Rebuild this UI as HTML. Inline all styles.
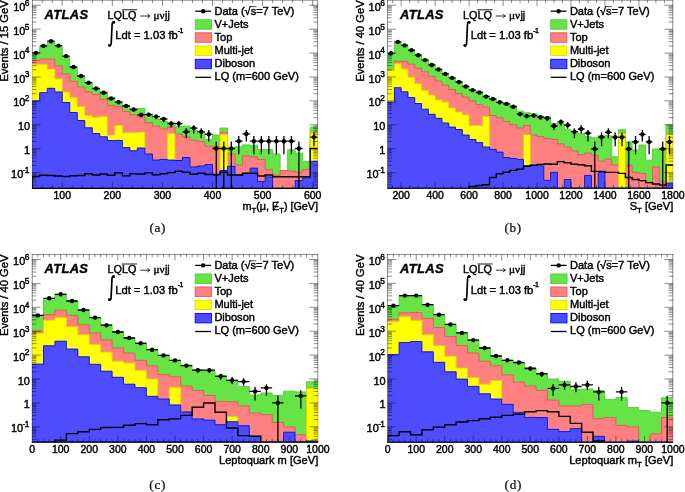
<!DOCTYPE html>
<html><head><meta charset="utf-8"><title>ATLAS LQ plots</title><style>html,body{margin:0;padding:0;background:#fff;width:685px;height:492px;overflow:hidden}svg{display:block}svg text{stroke:#000;stroke-width:0.42px}</style></head><body>
<svg width="685" height="492" viewBox="0 0 685 492" font-family="'Liberation Sans', Arial, Helvetica, sans-serif" fill="#000">
<rect width="100%" height="100%" fill="#fff"/>
<defs><clipPath id="clipa"><rect x="32.2" y="0.1" width="285.5" height="188.3"/></clipPath></defs>
<rect x="32.2" y="0.1" width="285.5" height="188.3" fill="none" stroke="#000" stroke-width="0.45"/>
<g clip-path="url(#clipa)">
<path d="M32.2 188.4 L32.2 54.2 L39.71 54.2 L39.71 46.7 L47.23 46.7 L47.23 42.3 L54.74 42.3 L54.74 46.4 L62.25 46.4 L62.25 57 L69.77 57 L69.77 67.5 L77.28 67.5 L77.28 76.5 L84.79 76.5 L84.79 83.3 L92.31 83.3 L92.31 88.7 L99.82 88.7 L99.82 92 L107.33 92 L107.33 97.6 L114.84 97.6 L114.84 101.7 L122.36 101.7 L122.36 105.8 L129.87 105.8 L129.87 109 L137.38 109 L137.38 108.5 L144.9 108.5 L144.9 114.1 L152.41 114.1 L152.41 119 L159.92 119 L159.92 121.5 L167.44 121.5 L167.44 122.3 L174.95 122.3 L174.95 126.3 L182.46 126.3 L182.46 126.1 L189.98 126.1 L189.98 130.6 L197.49 130.6 L197.49 133.8 L205 133.8 L205 139.5 L212.52 139.5 L212.52 135 L220.03 135 L220.03 128 L227.54 128 L227.54 148 L235.06 148 L235.06 146.7 L242.57 146.7 L242.57 144.9 L250.08 144.9 L250.08 145.4 L257.59 145.4 L257.59 149.5 L265.11 149.5 L265.11 149.5 L272.62 149.5 L272.62 154 L280.13 154 L280.13 170.5 L287.65 170.5 L287.65 149.8 L295.16 149.8 L295.16 153.1 L302.67 153.1 L302.67 161.4 L310.19 161.4 L310.19 127.1 L317.7 127.1 L317.7 188.4 Z" fill="#67e445" stroke="#4ccc34" stroke-width="0.9"/>
<path d="M32.2 188.4 L32.2 60.7 L39.71 60.7 L39.71 59.1 L47.23 59.1 L47.23 59.1 L54.74 59.1 L54.74 65.9 L62.25 65.9 L62.25 74 L69.77 74 L69.77 81.3 L77.28 81.3 L77.28 87 L84.79 87 L84.79 92 L92.31 92 L92.31 94.4 L99.82 94.4 L99.82 99.3 L107.33 99.3 L107.33 105.3 L114.84 105.3 L114.84 106.6 L122.36 106.6 L122.36 111.5 L129.87 111.5 L129.87 114.7 L137.38 114.7 L137.38 117 L144.9 117 L144.9 122.6 L152.41 122.6 L152.41 126 L159.92 126 L159.92 129 L167.44 129 L167.44 127 L174.95 127 L174.95 134 L182.46 134 L182.46 137 L189.98 137 L189.98 140.3 L197.49 140.3 L197.49 141.5 L205 141.5 L205 146 L212.52 146 L212.52 146.8 L220.03 146.8 L220.03 132.4 L227.54 132.4 L227.54 154 L235.06 154 L235.06 165 L242.57 165 L242.57 155.9 L250.08 155.9 L250.08 156.8 L257.59 156.8 L257.59 159.5 L265.11 159.5 L265.11 169.6 L272.62 169.6 L272.62 175.1 L280.13 175.1 L280.13 170.5 L287.65 170.5 L287.65 171 L295.16 171 L295.16 172.3 L302.67 172.3 L302.67 169.6 L310.19 169.6 L310.19 133 L317.7 133 L317.7 188.4 Z" fill="#ff8080" stroke="#e8505a" stroke-width="0.9"/>
<path d="M32.2 188.4 L32.2 64.3 L39.71 64.3 L39.71 64.3 L47.23 64.3 L47.23 69.1 L54.74 69.1 L54.74 78.9 L62.25 78.9 L62.25 91.9 L69.77 91.9 L69.77 97.6 L77.28 97.6 L77.28 106.5 L84.79 106.5 L84.79 115.6 L92.31 115.6 L92.31 117.3 L99.82 117.3 L99.82 116.4 L107.33 116.4 L107.33 135.1 L114.84 135.1 L114.84 125.4 L122.36 125.4 L122.36 132.8 L129.87 132.8 L129.87 132.7 L137.38 132.7 L137.38 132.2 L144.9 132.2 L144.9 154 L152.41 154 L152.41 160 L159.92 160 L159.92 159.4 L167.44 159.4 L167.44 133.6 L174.95 133.6 L174.95 160.5 L182.46 160.5 L182.46 157.5 L189.98 157.5 L189.98 166.9 L197.49 166.9 L197.49 165.9 L205 165.9 L205 164.5 L212.52 164.5 L212.52 175.1 L220.03 175.1 L220.03 134.4 L227.54 134.4 L227.54 166.3 L235.06 166.3 L235.06 175.1 L242.57 175.1 L242.57 173.3 L250.08 173.3 L250.08 168.1 L257.59 168.1 L257.59 181.5 L265.11 181.5 L265.11 176.9 L272.62 176.9 L272.62 188.4 L280.13 188.4 L280.13 188.4 L287.65 188.4 L287.65 188.4 L295.16 188.4 L295.16 180.6 L302.67 180.6 L302.67 177.8 L310.19 177.8 L310.19 133 L317.7 133 L317.7 188.4 Z" fill="#ffff00" stroke="#e0d800" stroke-width="0.9"/>
<path d="M32.2 188.4 L32.2 100.9 L39.71 100.9 L39.71 92.7 L47.23 92.7 L47.23 88.3 L54.74 88.3 L54.74 91.9 L62.25 91.9 L62.25 102.5 L69.77 102.5 L69.77 112.5 L77.28 112.5 L77.28 120.5 L84.79 120.5 L84.79 127.8 L92.31 127.8 L92.31 133.5 L99.82 133.5 L99.82 136.8 L107.33 136.8 L107.33 140.6 L114.84 140.6 L114.84 140.4 L122.36 140.4 L122.36 147.6 L129.87 147.6 L129.87 150.7 L137.38 150.7 L137.38 148 L144.9 148 L144.9 154 L152.41 154 L152.41 160 L159.92 160 L159.92 159.4 L167.44 159.4 L167.44 160.1 L174.95 160.1 L174.95 160.5 L182.46 160.5 L182.46 157.5 L189.98 157.5 L189.98 166.9 L197.49 166.9 L197.49 165.9 L205 165.9 L205 164.5 L212.52 164.5 L212.52 175.1 L220.03 175.1 L220.03 170.5 L227.54 170.5 L227.54 166.3 L235.06 166.3 L235.06 175.1 L242.57 175.1 L242.57 173.3 L250.08 173.3 L250.08 168.1 L257.59 168.1 L257.59 181.5 L265.11 181.5 L265.11 176.9 L272.62 176.9 L272.62 188.4 L280.13 188.4 L280.13 188.4 L287.65 188.4 L287.65 188.4 L295.16 188.4 L295.16 180.6 L302.67 180.6 L302.67 177.8 L310.19 177.8 L310.19 161.4 L317.7 161.4 L317.7 188.4 Z" fill="#4d4dff" stroke="#0000ff" stroke-width="0.9"/>
<path d="M32.2 190.4 L32.2 176.5 L39.71 176.5 L39.71 175.2 L47.23 175.2 L47.23 175.5 L54.74 175.5 L54.74 176 L62.25 176 L62.25 176.5 L69.77 176.5 L69.77 175.7 L77.28 175.7 L77.28 175.5 L84.79 175.5 L84.79 173.8 L92.31 173.8 L92.31 175 L99.82 175 L99.82 174 L107.33 174 L107.33 175.3 L114.84 175.3 L114.84 172.7 L122.36 172.7 L122.36 175.9 L129.87 175.9 L129.87 173.9 L137.38 173.9 L137.38 174 L144.9 174 L144.9 172.9 L152.41 172.9 L152.41 174.8 L159.92 174.8 L159.92 173.8 L167.44 173.8 L167.44 172.6 L174.95 172.6 L174.95 171.2 L182.46 171.2 L182.46 172.3 L189.98 172.3 L189.98 174.3 L197.49 174.3 L197.49 173.3 L205 173.3 L205 174.5 L212.52 174.5 L212.52 174.5 L220.03 174.5 L220.03 172.3 L227.54 172.3 L227.54 175 L235.06 175 L235.06 175 L242.57 175 L242.57 173.2 L250.08 173.2 L250.08 173.2 L257.59 173.2 L257.59 176 L265.11 176 L265.11 175 L272.62 175 L272.62 176.8 L280.13 176.8 L280.13 176.8 L287.65 176.8 L287.65 176.8 L295.16 176.8 L295.16 176.8 L302.67 176.8 L302.67 176.8 L310.19 176.8 L310.19 148.5 L317.7 148.5" fill="none" stroke="#000" stroke-width="1.4"/>
<line x1="32.2" y1="52.9" x2="39.71" y2="52.9" stroke="#000" stroke-width="1.3"/>
<circle cx="35.96" cy="52.9" r="2.2" fill="#000"/>
<line x1="39.71" y1="45.9" x2="47.23" y2="45.9" stroke="#000" stroke-width="1.3"/>
<circle cx="43.47" cy="45.9" r="2.2" fill="#000"/>
<line x1="47.23" y1="41.2" x2="54.74" y2="41.2" stroke="#000" stroke-width="1.3"/>
<circle cx="50.98" cy="41.2" r="2.2" fill="#000"/>
<line x1="54.74" y1="45.6" x2="62.25" y2="45.6" stroke="#000" stroke-width="1.3"/>
<circle cx="58.5" cy="45.6" r="2.2" fill="#000"/>
<line x1="62.25" y1="56.1" x2="69.77" y2="56.1" stroke="#000" stroke-width="1.3"/>
<circle cx="66.01" cy="56.1" r="2.2" fill="#000"/>
<line x1="69.77" y1="67" x2="77.28" y2="67" stroke="#000" stroke-width="1.3"/>
<circle cx="73.52" cy="67" r="2.2" fill="#000"/>
<line x1="77.28" y1="76" x2="84.79" y2="76" stroke="#000" stroke-width="1.3"/>
<circle cx="81.04" cy="76" r="2.2" fill="#000"/>
<line x1="84.79" y1="82.7" x2="92.31" y2="82.7" stroke="#000" stroke-width="1.3"/>
<circle cx="88.55" cy="82.7" r="2.2" fill="#000"/>
<line x1="92.31" y1="88.5" x2="99.82" y2="88.5" stroke="#000" stroke-width="1.3"/>
<circle cx="96.06" cy="88.5" r="2.2" fill="#000"/>
<line x1="99.82" y1="92.8" x2="107.33" y2="92.8" stroke="#000" stroke-width="1.3"/>
<circle cx="103.58" cy="92.8" r="2.2" fill="#000"/>
<line x1="107.33" y1="98.5" x2="114.84" y2="98.5" stroke="#000" stroke-width="1.3"/>
<circle cx="111.09" cy="98.5" r="2.2" fill="#000"/>
<line x1="114.84" y1="102.2" x2="122.36" y2="102.2" stroke="#000" stroke-width="1.3"/>
<circle cx="118.6" cy="102.2" r="2.2" fill="#000"/>
<line x1="122.36" y1="106" x2="129.87" y2="106" stroke="#000" stroke-width="1.3"/>
<circle cx="126.11" cy="106" r="2.2" fill="#000"/>
<line x1="129.87" y1="109.5" x2="137.38" y2="109.5" stroke="#000" stroke-width="1.3"/>
<circle cx="133.63" cy="109.5" r="2.2" fill="#000"/>
<line x1="141.14" y1="113.02" x2="141.14" y2="117.15" stroke="#000" stroke-width="1.3"/>
<line x1="137.38" y1="114.8" x2="144.9" y2="114.8" stroke="#000" stroke-width="1.3"/>
<circle cx="141.14" cy="114.8" r="2.2" fill="#000"/>
<line x1="148.65" y1="112.66" x2="148.65" y2="116.71" stroke="#000" stroke-width="1.3"/>
<line x1="144.9" y1="114.6" x2="152.41" y2="114.6" stroke="#000" stroke-width="1.3"/>
<circle cx="148.65" cy="114.6" r="2.2" fill="#000"/>
<line x1="156.17" y1="114.61" x2="156.17" y2="119.1" stroke="#000" stroke-width="1.3"/>
<line x1="152.41" y1="116.6" x2="159.92" y2="116.6" stroke="#000" stroke-width="1.3"/>
<circle cx="156.17" cy="116.6" r="2.2" fill="#000"/>
<line x1="163.68" y1="117.04" x2="163.68" y2="122.18" stroke="#000" stroke-width="1.3"/>
<line x1="159.92" y1="119" x2="167.44" y2="119" stroke="#000" stroke-width="1.3"/>
<circle cx="163.68" cy="119" r="2.2" fill="#000"/>
<line x1="171.19" y1="121.08" x2="171.19" y2="127.54" stroke="#000" stroke-width="1.3"/>
<line x1="167.44" y1="123.6" x2="174.95" y2="123.6" stroke="#000" stroke-width="1.3"/>
<circle cx="171.19" cy="123.6" r="2.2" fill="#000"/>
<line x1="178.71" y1="121.08" x2="178.71" y2="127.54" stroke="#000" stroke-width="1.3"/>
<line x1="174.95" y1="123.6" x2="182.46" y2="123.6" stroke="#000" stroke-width="1.3"/>
<circle cx="178.71" cy="123.6" r="2.2" fill="#000"/>
<line x1="186.22" y1="128.16" x2="186.22" y2="138.15" stroke="#000" stroke-width="1.3"/>
<line x1="182.46" y1="131.8" x2="189.98" y2="131.8" stroke="#000" stroke-width="1.3"/>
<circle cx="186.22" cy="131.8" r="2.2" fill="#000"/>
<line x1="193.73" y1="125.17" x2="193.73" y2="133.43" stroke="#000" stroke-width="1.3"/>
<line x1="189.98" y1="128.1" x2="197.49" y2="128.1" stroke="#000" stroke-width="1.3"/>
<circle cx="193.73" cy="128.1" r="2.2" fill="#000"/>
<line x1="201.25" y1="128.16" x2="201.25" y2="138.15" stroke="#000" stroke-width="1.3"/>
<line x1="197.49" y1="131.8" x2="205" y2="131.8" stroke="#000" stroke-width="1.3"/>
<circle cx="201.25" cy="131.8" r="2.2" fill="#000"/>
<line x1="208.76" y1="130.1" x2="208.76" y2="141.51" stroke="#000" stroke-width="1.3"/>
<line x1="205" y1="134.2" x2="212.52" y2="134.2" stroke="#000" stroke-width="1.3"/>
<circle cx="208.76" cy="134.2" r="2.2" fill="#000"/>
<line x1="216.27" y1="141.51" x2="216.27" y2="188.4" stroke="#000" stroke-width="1.3"/>
<line x1="212.52" y1="148.5" x2="220.03" y2="148.5" stroke="#000" stroke-width="1.3"/>
<circle cx="216.27" cy="148.5" r="2.2" fill="#000"/>
<line x1="223.79" y1="141.51" x2="223.79" y2="188.4" stroke="#000" stroke-width="1.3"/>
<line x1="220.03" y1="148.5" x2="227.54" y2="148.5" stroke="#000" stroke-width="1.3"/>
<circle cx="223.79" cy="148.5" r="2.2" fill="#000"/>
<line x1="231.3" y1="141.51" x2="231.3" y2="188.4" stroke="#000" stroke-width="1.3"/>
<line x1="227.54" y1="148.5" x2="235.06" y2="148.5" stroke="#000" stroke-width="1.3"/>
<circle cx="231.3" cy="148.5" r="2.2" fill="#000"/>
<line x1="238.81" y1="135.95" x2="238.81" y2="154.25" stroke="#000" stroke-width="1.3"/>
<line x1="235.06" y1="141.2" x2="242.57" y2="141.2" stroke="#000" stroke-width="1.3"/>
<circle cx="238.81" cy="141.2" r="2.2" fill="#000"/>
<line x1="246.32" y1="130.1" x2="246.32" y2="141.51" stroke="#000" stroke-width="1.3"/>
<line x1="242.57" y1="133.9" x2="250.08" y2="133.9" stroke="#000" stroke-width="1.3"/>
<circle cx="246.32" cy="133.9" r="2.2" fill="#000"/>
<line x1="253.84" y1="135.95" x2="253.84" y2="154.25" stroke="#000" stroke-width="1.3"/>
<line x1="250.08" y1="141.2" x2="257.59" y2="141.2" stroke="#000" stroke-width="1.3"/>
<circle cx="253.84" cy="141.2" r="2.2" fill="#000"/>
<line x1="261.35" y1="135.95" x2="261.35" y2="154.25" stroke="#000" stroke-width="1.3"/>
<line x1="257.59" y1="141.2" x2="265.11" y2="141.2" stroke="#000" stroke-width="1.3"/>
<circle cx="261.35" cy="141.2" r="2.2" fill="#000"/>
<line x1="268.86" y1="135.95" x2="268.86" y2="154.25" stroke="#000" stroke-width="1.3"/>
<line x1="265.11" y1="141.2" x2="272.62" y2="141.2" stroke="#000" stroke-width="1.3"/>
<circle cx="268.86" cy="141.2" r="2.2" fill="#000"/>
<line x1="276.38" y1="135.95" x2="276.38" y2="154.25" stroke="#000" stroke-width="1.3"/>
<line x1="272.62" y1="141.2" x2="280.13" y2="141.2" stroke="#000" stroke-width="1.3"/>
<circle cx="276.38" cy="141.2" r="2.2" fill="#000"/>
<line x1="283.89" y1="135.95" x2="283.89" y2="154.25" stroke="#000" stroke-width="1.3"/>
<line x1="280.13" y1="141.2" x2="287.65" y2="141.2" stroke="#000" stroke-width="1.3"/>
<circle cx="283.89" cy="141.2" r="2.2" fill="#000"/>
<line x1="291.4" y1="135.95" x2="291.4" y2="154.25" stroke="#000" stroke-width="1.3"/>
<line x1="287.65" y1="141.2" x2="295.16" y2="141.2" stroke="#000" stroke-width="1.3"/>
<circle cx="291.4" cy="141.2" r="2.2" fill="#000"/>
<line x1="298.92" y1="141.51" x2="298.92" y2="188.4" stroke="#000" stroke-width="1.3"/>
<line x1="295.16" y1="148.5" x2="302.67" y2="148.5" stroke="#000" stroke-width="1.3"/>
<circle cx="298.92" cy="148.5" r="2.2" fill="#000"/>
<line x1="313.94" y1="132.57" x2="313.94" y2="146.24" stroke="#000" stroke-width="1.3"/>
<line x1="310.19" y1="137.1" x2="317.7" y2="137.1" stroke="#000" stroke-width="1.3"/>
<circle cx="313.94" cy="137.1" r="2.2" fill="#000"/>
</g>
<path d="M31.9 188.4H318" stroke="#000" stroke-width="1.1"/>
<path d="M32.2 185.1h4.3 M317.7 185.1h-4.3 M32.2 182.11h4.3 M317.7 182.11h-4.3 M32.2 179.79h4.3 M317.7 179.79h-4.3 M32.2 177.9h4.3 M317.7 177.9h-4.3 M32.2 176.3h4.3 M317.7 176.3h-4.3 M32.2 174.92h4.3 M317.7 174.92h-4.3 M32.2 173.69h4.3 M317.7 173.69h-4.3 M32.2 172.6h8.5 M317.7 172.6h-8.5 M32.2 165.41h4.3 M317.7 165.41h-4.3 M32.2 161.2h4.3 M317.7 161.2h-4.3 M32.2 158.21h4.3 M317.7 158.21h-4.3 M32.2 155.89h4.3 M317.7 155.89h-4.3 M32.2 154h4.3 M317.7 154h-4.3 M32.2 152.4h4.3 M317.7 152.4h-4.3 M32.2 151.02h4.3 M317.7 151.02h-4.3 M32.2 149.79h4.3 M317.7 149.79h-4.3 M32.2 148.7h8.5 M317.7 148.7h-8.5 M32.2 141.51h4.3 M317.7 141.51h-4.3 M32.2 137.3h4.3 M317.7 137.3h-4.3 M32.2 134.31h4.3 M317.7 134.31h-4.3 M32.2 131.99h4.3 M317.7 131.99h-4.3 M32.2 130.1h4.3 M317.7 130.1h-4.3 M32.2 128.5h4.3 M317.7 128.5h-4.3 M32.2 127.12h4.3 M317.7 127.12h-4.3 M32.2 125.89h4.3 M317.7 125.89h-4.3 M32.2 124.8h8.5 M317.7 124.8h-8.5 M32.2 117.61h4.3 M317.7 117.61h-4.3 M32.2 113.4h4.3 M317.7 113.4h-4.3 M32.2 110.41h4.3 M317.7 110.41h-4.3 M32.2 108.09h4.3 M317.7 108.09h-4.3 M32.2 106.2h4.3 M317.7 106.2h-4.3 M32.2 104.6h4.3 M317.7 104.6h-4.3 M32.2 103.22h4.3 M317.7 103.22h-4.3 M32.2 101.99h4.3 M317.7 101.99h-4.3 M32.2 100.9h8.5 M317.7 100.9h-8.5 M32.2 93.71h4.3 M317.7 93.71h-4.3 M32.2 89.5h4.3 M317.7 89.5h-4.3 M32.2 86.51h4.3 M317.7 86.51h-4.3 M32.2 84.19h4.3 M317.7 84.19h-4.3 M32.2 82.3h4.3 M317.7 82.3h-4.3 M32.2 80.7h4.3 M317.7 80.7h-4.3 M32.2 79.32h4.3 M317.7 79.32h-4.3 M32.2 78.09h4.3 M317.7 78.09h-4.3 M32.2 77h8.5 M317.7 77h-8.5 M32.2 69.81h4.3 M317.7 69.81h-4.3 M32.2 65.6h4.3 M317.7 65.6h-4.3 M32.2 62.61h4.3 M317.7 62.61h-4.3 M32.2 60.29h4.3 M317.7 60.29h-4.3 M32.2 58.4h4.3 M317.7 58.4h-4.3 M32.2 56.8h4.3 M317.7 56.8h-4.3 M32.2 55.42h4.3 M317.7 55.42h-4.3 M32.2 54.19h4.3 M317.7 54.19h-4.3 M32.2 53.1h8.5 M317.7 53.1h-8.5 M32.2 45.91h4.3 M317.7 45.91h-4.3 M32.2 41.7h4.3 M317.7 41.7h-4.3 M32.2 38.71h4.3 M317.7 38.71h-4.3 M32.2 36.39h4.3 M317.7 36.39h-4.3 M32.2 34.5h4.3 M317.7 34.5h-4.3 M32.2 32.9h4.3 M317.7 32.9h-4.3 M32.2 31.52h4.3 M317.7 31.52h-4.3 M32.2 30.29h4.3 M317.7 30.29h-4.3 M32.2 29.2h8.5 M317.7 29.2h-8.5 M32.2 22.01h4.3 M317.7 22.01h-4.3 M32.2 17.8h4.3 M317.7 17.8h-4.3 M32.2 14.81h4.3 M317.7 14.81h-4.3 M32.2 12.49h4.3 M317.7 12.49h-4.3 M32.2 10.6h4.3 M317.7 10.6h-4.3 M32.2 9h4.3 M317.7 9h-4.3 M32.2 7.62h4.3 M317.7 7.62h-4.3 M32.2 6.39h4.3 M317.7 6.39h-4.3 M32.2 5.3h8.5 M317.7 5.3h-8.5 M42.22 188.4v-3 M42.22 0.1v3 M52.24 188.4v-3 M52.24 0.1v3 M62.25 188.4v-6 M62.25 0.1v6 M72.27 188.4v-3 M72.27 0.1v3 M82.29 188.4v-3 M82.29 0.1v3 M92.31 188.4v-3 M92.31 0.1v3 M102.32 188.4v-3 M102.32 0.1v3 M112.34 188.4v-6 M112.34 0.1v6 M122.36 188.4v-3 M122.36 0.1v3 M132.38 188.4v-3 M132.38 0.1v3 M142.39 188.4v-3 M142.39 0.1v3 M152.41 188.4v-3 M152.41 0.1v3 M162.43 188.4v-6 M162.43 0.1v6 M172.45 188.4v-3 M172.45 0.1v3 M182.46 188.4v-3 M182.46 0.1v3 M192.48 188.4v-3 M192.48 0.1v3 M202.5 188.4v-3 M202.5 0.1v3 M212.52 188.4v-6 M212.52 0.1v6 M222.53 188.4v-3 M222.53 0.1v3 M232.55 188.4v-3 M232.55 0.1v3 M242.57 188.4v-3 M242.57 0.1v3 M252.59 188.4v-3 M252.59 0.1v3 M262.6 188.4v-6 M262.6 0.1v6 M272.62 188.4v-3 M272.62 0.1v3 M282.64 188.4v-3 M282.64 0.1v3 M292.66 188.4v-3 M292.66 0.1v3 M302.67 188.4v-3 M302.67 0.1v3 M312.69 188.4v-6 M312.69 0.1v6" stroke="#000" stroke-width="0.45" fill="none"/>
<g font-size="10.9"><text x="29.4" y="178.1" text-anchor="end">10<tspan dx="-0.6" dy="-5.2" font-size="8.4"><tspan letter-spacing="-0.7">-</tspan>1</tspan></text><text x="30" y="154.2" text-anchor="end">1</text><text x="30" y="130.3" text-anchor="end">10</text><text x="29.4" y="106.4" text-anchor="end">10<tspan dx="-0.6" dy="-5.2" font-size="8.4">2</tspan></text><text x="29.4" y="82.5" text-anchor="end">10<tspan dx="-0.6" dy="-5.2" font-size="8.4">3</tspan></text><text x="29.4" y="58.6" text-anchor="end">10<tspan dx="-0.6" dy="-5.2" font-size="8.4">4</tspan></text><text x="29.4" y="34.7" text-anchor="end">10<tspan dx="-0.6" dy="-5.2" font-size="8.4">5</tspan></text><text x="29.4" y="10.8" text-anchor="end">10<tspan dx="-0.6" dy="-5.2" font-size="8.4">6</tspan></text></g>
<g font-size="10.5"><text x="62.25" y="199.2" text-anchor="middle">100</text><text x="112.34" y="199.2" text-anchor="middle">200</text><text x="162.43" y="199.2" text-anchor="middle">300</text><text x="212.52" y="199.2" text-anchor="middle">400</text><text x="262.6" y="199.2" text-anchor="middle">500</text><text x="312.69" y="199.2" text-anchor="middle">600</text></g>
<text transform="translate(8.2 0.3) rotate(-90)" text-anchor="end" font-size="11.2">Events / 15 GeV</text>
<g font-size="11.05"><line x1="195.3" y1="11.2" x2="211.1" y2="11.2" stroke="#000" stroke-width="1.3"/>
<circle cx="203.2" cy="11.2" r="2.2"/>
<rect x="195.3" y="19.8" width="16.2" height="9.4" fill="#67e445" stroke="#4ccc34" stroke-width="0.9"/>
<rect x="195.3" y="32.8" width="16.2" height="9.4" fill="#ff8080" stroke="#e8505a" stroke-width="0.9"/>
<rect x="195.3" y="46" width="16.2" height="9.4" fill="#ffff00" stroke="#e0d800" stroke-width="0.9"/>
<rect x="195.3" y="59.3" width="16.2" height="9.4" fill="#4d4dff" stroke="#0000ff" stroke-width="0.9"/>
<line x1="195.3" y1="77.3" x2="211.1" y2="77.3" stroke="#000" stroke-width="1.3"/>
<path d="M250.1 6.6H256.4" stroke="#000" stroke-width="0.7"/>
<text x="214.5" y="15.15">Data (&#8730;s=7 TeV)</text>
<text x="214.5" y="28.1">V+Jets</text>
<text x="214.5" y="41.05">Top</text>
<text x="214.5" y="54">Multi-jet</text>
<text x="214.5" y="66.95">Diboson</text>
<text x="214.5" y="79.9">LQ (m=600 GeV)</text>
<text x="44.6" y="19" font-weight="bold" font-style="italic" font-size="12.9" letter-spacing="0.35">ATLAS</text>
<text x="107.6" y="19" font-size="10.8">LQLQ</text>
<path d="M121.9 9.8h15.2" stroke="#000" stroke-width="0.9"/>
<path d="M140.3 16h9.6 M150 16l-2.6 -1.8 M150 16l-2.6 1.8" stroke="#000" stroke-width="0.8" fill="none"/>
<text x="153.6" y="19" font-size="11.2" font-family="'Liberation Serif', 'Times New Roman', serif">&#956;&#957;</text>
<text x="165" y="19" font-size="10.8">jj</text>
<path d="M114.3 22.4 C113.6 21.2 112.2 21.6 112.1 24.5 L111.2 43.3 C111.1 46.2 109.6 46.6 108.9 45.4" stroke="#000" stroke-width="1.7" fill="none" stroke-linecap="round"/>
<circle cx="113.9" cy="22.6" r="1.25"/><circle cx="109.3" cy="45.2" r="1.25"/>
<text x="115.3" y="39.3" font-size="11.2">Ldt = 1.03 fb<tspan dx="0" dy="-6.2" font-size="6.9" letter-spacing="-0.6">-1</tspan></text></g>
<text x="242.59" y="210.3" font-size="10.8">m</text>
<text x="251.58" y="213.4" font-size="7.6">T</text>
<text x="256.23" y="210.3" font-size="10.8">(&#956;,&#160;</text>
<text x="272.05" y="210.3" font-size="10.8">E</text>
<path d="M273.25 211.3L278.05 201.3" stroke="#000" stroke-width="0.9"/>
<text x="279.25" y="213.4" font-size="7.6">T</text>
<text x="283.89" y="210.3" font-size="10.8">)&#160;[GeV]</text>
<text x="157.8" y="232" text-anchor="middle" font-family="'Liberation Serif', 'Times New Roman', serif" font-size="13.2" letter-spacing="0.7" style="stroke-width:0.2px">(a)</text>
<defs><clipPath id="clipb"><rect x="387.6" y="0.1" width="285.3" height="188.1"/></clipPath></defs>
<rect x="387.6" y="0.1" width="285.3" height="188.1" fill="none" stroke="#000" stroke-width="0.45"/>
<g clip-path="url(#clipb)">
<path d="M387.6 188.2 L387.6 53.6 L394.39 53.6 L394.39 42.2 L401.19 42.2 L401.19 45 L407.98 45 L407.98 49.5 L414.77 49.5 L414.77 54.4 L421.56 54.4 L421.56 59.3 L428.36 59.3 L428.36 64.1 L435.15 64.1 L435.15 69 L441.94 69 L441.94 73.5 L448.74 73.5 L448.74 77.6 L455.53 77.6 L455.53 81.5 L462.32 81.5 L462.32 86 L469.11 86 L469.11 89.7 L475.91 89.7 L475.91 92 L482.7 92 L482.7 95.7 L489.49 95.7 L489.49 99.1 L496.29 99.1 L496.29 102 L503.08 102 L503.08 103.1 L509.87 103.1 L509.87 105.5 L516.66 105.5 L516.66 111.2 L523.46 111.2 L523.46 112.8 L530.25 112.8 L530.25 113.7 L537.04 113.7 L537.04 116.1 L543.84 116.1 L543.84 116.9 L550.63 116.9 L550.63 123.5 L557.42 123.5 L557.42 123.6 L564.21 123.6 L564.21 129.7 L571.01 129.7 L571.01 131.7 L577.8 131.7 L577.8 133.7 L584.59 133.7 L584.59 136.8 L591.39 136.8 L591.39 137.8 L598.18 137.8 L598.18 135.8 L604.97 135.8 L604.97 135.8 L611.76 135.8 L611.76 156.8 L618.56 156.8 L618.56 129.7 L625.35 129.7 L625.35 141.9 L632.14 141.9 L632.14 150 L638.94 150 L638.94 145 L645.73 145 L645.73 160.2 L652.52 160.2 L652.52 149 L659.31 149 L659.31 149 L666.11 149 L666.11 124.7 L672.9 124.7 L672.9 188.2 Z" fill="#67e445" stroke="#4ccc34" stroke-width="0.9"/>
<path d="M387.6 188.2 L387.6 70.7 L394.39 70.7 L394.39 61.2 L401.19 61.2 L401.19 61.7 L407.98 61.7 L407.98 64.1 L414.77 64.1 L414.77 68.2 L421.56 68.2 L421.56 71.8 L428.36 71.8 L428.36 76.3 L435.15 76.3 L435.15 81 L441.94 81 L441.94 85.2 L448.74 85.2 L448.74 89.7 L455.53 89.7 L455.53 93.7 L462.32 93.7 L462.32 97 L469.11 97 L469.11 101 L475.91 101 L475.91 104.5 L482.7 104.5 L482.7 107 L489.49 107 L489.49 115.5 L496.29 115.5 L496.29 117.8 L503.08 117.8 L503.08 121.4 L509.87 121.4 L509.87 124.8 L516.66 124.8 L516.66 128 L523.46 128 L523.46 125.5 L530.25 125.5 L530.25 135 L537.04 135 L537.04 136.6 L543.84 136.6 L543.84 138.4 L550.63 138.4 L550.63 139.5 L557.42 139.5 L557.42 143.9 L564.21 143.9 L564.21 147 L571.01 147 L571.01 151 L577.8 151 L577.8 154.7 L584.59 154.7 L584.59 153 L591.39 153 L591.39 155.1 L598.18 155.1 L598.18 161.2 L604.97 161.2 L604.97 159.1 L611.76 159.1 L611.76 165 L618.56 165 L618.56 133.7 L625.35 133.7 L625.35 165.3 L632.14 165.3 L632.14 172.4 L638.94 172.4 L638.94 173.4 L645.73 173.4 L645.73 182.6 L652.52 182.6 L652.52 166.9 L659.31 166.9 L659.31 182 L666.11 182 L666.11 133.9 L672.9 133.9 L672.9 188.2 Z" fill="#ff8080" stroke="#e8505a" stroke-width="0.9"/>
<path d="M387.6 188.2 L387.6 70.7 L394.39 70.7 L394.39 63.7 L401.19 63.7 L401.19 69 L407.98 69 L407.98 77.2 L414.77 77.2 L414.77 83.7 L421.56 83.7 L421.56 90.2 L428.36 90.2 L428.36 95 L435.15 95 L435.15 99.9 L441.94 99.9 L441.94 102.1 L448.74 102.1 L448.74 108 L455.53 108 L455.53 112 L462.32 112 L462.32 114.9 L469.11 114.9 L469.11 125.6 L475.91 125.6 L475.91 125.6 L482.7 125.6 L482.7 116.3 L489.49 116.3 L489.49 149.4 L496.29 149.4 L496.29 152.1 L503.08 152.1 L503.08 157.6 L509.87 157.6 L509.87 158.5 L516.66 158.5 L516.66 159.4 L523.46 159.4 L523.46 134.7 L530.25 134.7 L530.25 164.9 L537.04 164.9 L537.04 165.8 L543.84 165.8 L543.84 180.4 L550.63 180.4 L550.63 172.3 L557.42 172.3 L557.42 188.2 L564.21 188.2 L564.21 179.5 L571.01 179.5 L571.01 188.2 L577.8 188.2 L577.8 188.2 L584.59 188.2 L584.59 175.4 L591.39 175.4 L591.39 188.2 L598.18 188.2 L598.18 172.4 L604.97 172.4 L604.97 188.2 L611.76 188.2 L611.76 188.2 L618.56 188.2 L618.56 133.7 L625.35 133.7 L625.35 188.2 L632.14 188.2 L632.14 188.2 L638.94 188.2 L638.94 188.2 L645.73 188.2 L645.73 188.2 L652.52 188.2 L652.52 188.2 L659.31 188.2 L659.31 188.2 L666.11 188.2 L666.11 134.6 L672.9 134.6 L672.9 188.2 Z" fill="#ffff00" stroke="#e0d800" stroke-width="0.9"/>
<path d="M387.6 188.2 L387.6 102.3 L394.39 102.3 L394.39 87.7 L401.19 87.7 L401.19 91.8 L407.98 91.8 L407.98 97.5 L414.77 97.5 L414.77 103.5 L421.56 103.5 L421.56 109.2 L428.36 109.2 L428.36 114.3 L435.15 114.3 L435.15 118.3 L441.94 118.3 L441.94 123 L448.74 123 L448.74 127.1 L455.53 127.1 L455.53 129.5 L462.32 129.5 L462.32 135 L469.11 135 L469.11 139.5 L475.91 139.5 L475.91 142.6 L482.7 142.6 L482.7 147 L489.49 147 L489.49 149.4 L496.29 149.4 L496.29 152.1 L503.08 152.1 L503.08 157.6 L509.87 157.6 L509.87 158.5 L516.66 158.5 L516.66 159.4 L523.46 159.4 L523.46 165.8 L530.25 165.8 L530.25 164.9 L537.04 164.9 L537.04 165.8 L543.84 165.8 L543.84 180.4 L550.63 180.4 L550.63 172.3 L557.42 172.3 L557.42 188.2 L564.21 188.2 L564.21 179.5 L571.01 179.5 L571.01 188.2 L577.8 188.2 L577.8 188.2 L584.59 188.2 L584.59 175.4 L591.39 175.4 L591.39 188.2 L598.18 188.2 L598.18 172.4 L604.97 172.4 L604.97 188.2 L611.76 188.2 L611.76 188.2 L618.56 188.2 L618.56 188.2 L625.35 188.2 L625.35 188.2 L632.14 188.2 L632.14 188.2 L638.94 188.2 L638.94 188.2 L645.73 188.2 L645.73 188.2 L652.52 188.2 L652.52 188.2 L659.31 188.2 L659.31 188.2 L666.11 188.2 L666.11 183.2 L672.9 183.2 L672.9 188.2 Z" fill="#4d4dff" stroke="#0000ff" stroke-width="0.9"/>
<path d="M387.6 190.2 L387.6 190.2 L394.39 190.2 L394.39 190.2 L401.19 190.2 L401.19 190.2 L407.98 190.2 L407.98 190.2 L414.77 190.2 L414.77 190.2 L421.56 190.2 L421.56 190.2 L428.36 190.2 L428.36 190.2 L435.15 190.2 L435.15 190.2 L441.94 190.2 L441.94 190.2 L448.74 190.2 L448.74 190.2 L455.53 190.2 L455.53 190.2 L462.32 190.2 L462.32 190.2 L469.11 190.2 L469.11 186.5 L475.91 186.5 L475.91 185.5 L482.7 185.5 L482.7 184.8 L489.49 184.8 L489.49 177.5 L496.29 177.5 L496.29 173.8 L503.08 173.8 L503.08 172.2 L509.87 172.2 L509.87 170.4 L516.66 170.4 L516.66 169.1 L523.46 169.1 L523.46 166.2 L530.25 166.2 L530.25 165.4 L537.04 165.4 L537.04 164.4 L543.84 164.4 L543.84 164 L550.63 164 L550.63 164.2 L557.42 164.2 L557.42 161.6 L564.21 161.6 L564.21 162.8 L571.01 162.8 L571.01 164.2 L577.8 164.2 L577.8 164.8 L584.59 164.8 L584.59 165.7 L591.39 165.7 L591.39 171.4 L598.18 171.4 L598.18 171.4 L604.97 171.4 L604.97 172.4 L611.76 172.4 L611.76 172.4 L618.56 172.4 L618.56 173.4 L625.35 173.4 L625.35 177.5 L632.14 177.5 L632.14 179.5 L638.94 179.5 L638.94 180.6 L645.73 180.6 L645.73 182.6 L652.52 182.6 L652.52 184 L659.31 184 L659.31 185 L666.11 185 L666.11 165 L672.9 165" fill="none" stroke="#000" stroke-width="1.4"/>
<line x1="387.6" y1="53.3" x2="394.39" y2="53.3" stroke="#000" stroke-width="1.3"/>
<circle cx="391" cy="53.3" r="2.2" fill="#000"/>
<line x1="394.39" y1="41.9" x2="401.19" y2="41.9" stroke="#000" stroke-width="1.3"/>
<circle cx="397.79" cy="41.9" r="2.2" fill="#000"/>
<line x1="401.19" y1="45.4" x2="407.98" y2="45.4" stroke="#000" stroke-width="1.3"/>
<circle cx="404.58" cy="45.4" r="2.2" fill="#000"/>
<line x1="407.98" y1="50.3" x2="414.77" y2="50.3" stroke="#000" stroke-width="1.3"/>
<circle cx="411.38" cy="50.3" r="2.2" fill="#000"/>
<line x1="414.77" y1="55.2" x2="421.56" y2="55.2" stroke="#000" stroke-width="1.3"/>
<circle cx="418.17" cy="55.2" r="2.2" fill="#000"/>
<line x1="421.56" y1="60.1" x2="428.36" y2="60.1" stroke="#000" stroke-width="1.3"/>
<circle cx="424.96" cy="60.1" r="2.2" fill="#000"/>
<line x1="428.36" y1="65" x2="435.15" y2="65" stroke="#000" stroke-width="1.3"/>
<circle cx="431.75" cy="65" r="2.2" fill="#000"/>
<line x1="435.15" y1="69.5" x2="441.94" y2="69.5" stroke="#000" stroke-width="1.3"/>
<circle cx="438.55" cy="69.5" r="2.2" fill="#000"/>
<line x1="441.94" y1="73.9" x2="448.74" y2="73.9" stroke="#000" stroke-width="1.3"/>
<circle cx="445.34" cy="73.9" r="2.2" fill="#000"/>
<line x1="448.74" y1="77.9" x2="455.53" y2="77.9" stroke="#000" stroke-width="1.3"/>
<circle cx="452.13" cy="77.9" r="2.2" fill="#000"/>
<line x1="455.53" y1="82" x2="462.32" y2="82" stroke="#000" stroke-width="1.3"/>
<circle cx="458.93" cy="82" r="2.2" fill="#000"/>
<line x1="462.32" y1="86.5" x2="469.11" y2="86.5" stroke="#000" stroke-width="1.3"/>
<circle cx="465.72" cy="86.5" r="2.2" fill="#000"/>
<line x1="469.11" y1="90.1" x2="475.91" y2="90.1" stroke="#000" stroke-width="1.3"/>
<circle cx="472.51" cy="90.1" r="2.2" fill="#000"/>
<line x1="475.91" y1="92.5" x2="482.7" y2="92.5" stroke="#000" stroke-width="1.3"/>
<circle cx="479.3" cy="92.5" r="2.2" fill="#000"/>
<line x1="482.7" y1="96.6" x2="489.49" y2="96.6" stroke="#000" stroke-width="1.3"/>
<circle cx="486.1" cy="96.6" r="2.2" fill="#000"/>
<line x1="489.49" y1="99" x2="496.29" y2="99" stroke="#000" stroke-width="1.3"/>
<circle cx="492.89" cy="99" r="2.2" fill="#000"/>
<line x1="496.29" y1="102.3" x2="503.08" y2="102.3" stroke="#000" stroke-width="1.3"/>
<circle cx="499.68" cy="102.3" r="2.2" fill="#000"/>
<line x1="503.08" y1="103.9" x2="509.87" y2="103.9" stroke="#000" stroke-width="1.3"/>
<circle cx="506.48" cy="103.9" r="2.2" fill="#000"/>
<line x1="509.87" y1="106.8" x2="516.66" y2="106.8" stroke="#000" stroke-width="1.3"/>
<circle cx="513.27" cy="106.8" r="2.2" fill="#000"/>
<line x1="520.06" y1="112.32" x2="520.06" y2="116.29" stroke="#000" stroke-width="1.3"/>
<line x1="516.66" y1="114.1" x2="523.46" y2="114.1" stroke="#000" stroke-width="1.3"/>
<circle cx="520.06" cy="114.1" r="2.2" fill="#000"/>
<line x1="526.85" y1="114.19" x2="526.85" y2="118.58" stroke="#000" stroke-width="1.3"/>
<line x1="523.46" y1="116.1" x2="530.25" y2="116.1" stroke="#000" stroke-width="1.3"/>
<circle cx="526.85" cy="116.1" r="2.2" fill="#000"/>
<line x1="533.65" y1="113.78" x2="533.65" y2="118.08" stroke="#000" stroke-width="1.3"/>
<line x1="530.25" y1="115.6" x2="537.04" y2="115.6" stroke="#000" stroke-width="1.3"/>
<circle cx="533.65" cy="115.6" r="2.2" fill="#000"/>
<line x1="540.44" y1="115.05" x2="540.44" y2="119.65" stroke="#000" stroke-width="1.3"/>
<line x1="537.04" y1="117.2" x2="543.84" y2="117.2" stroke="#000" stroke-width="1.3"/>
<circle cx="540.44" cy="117.2" r="2.2" fill="#000"/>
<line x1="547.23" y1="115.99" x2="547.23" y2="120.84" stroke="#000" stroke-width="1.3"/>
<line x1="543.84" y1="118.2" x2="550.63" y2="118.2" stroke="#000" stroke-width="1.3"/>
<circle cx="547.23" cy="118.2" r="2.2" fill="#000"/>
<line x1="554.02" y1="122.91" x2="554.02" y2="130.1" stroke="#000" stroke-width="1.3"/>
<line x1="550.63" y1="126" x2="557.42" y2="126" stroke="#000" stroke-width="1.3"/>
<circle cx="554.02" cy="126" r="2.2" fill="#000"/>
<line x1="560.82" y1="119.54" x2="560.82" y2="125.45" stroke="#000" stroke-width="1.3"/>
<line x1="557.42" y1="121.9" x2="564.21" y2="121.9" stroke="#000" stroke-width="1.3"/>
<circle cx="560.82" cy="121.9" r="2.2" fill="#000"/>
<line x1="567.61" y1="121.95" x2="567.61" y2="128.75" stroke="#000" stroke-width="1.3"/>
<line x1="564.21" y1="125.2" x2="571.01" y2="125.2" stroke="#000" stroke-width="1.3"/>
<circle cx="567.61" cy="125.2" r="2.2" fill="#000"/>
<line x1="574.4" y1="128.16" x2="574.4" y2="138.15" stroke="#000" stroke-width="1.3"/>
<line x1="571.01" y1="131.7" x2="577.8" y2="131.7" stroke="#000" stroke-width="1.3"/>
<circle cx="574.4" cy="131.7" r="2.2" fill="#000"/>
<line x1="581.2" y1="125.17" x2="581.2" y2="133.43" stroke="#000" stroke-width="1.3"/>
<line x1="577.8" y1="129" x2="584.59" y2="129" stroke="#000" stroke-width="1.3"/>
<circle cx="581.2" cy="129" r="2.2" fill="#000"/>
<line x1="587.99" y1="130.1" x2="587.99" y2="141.51" stroke="#000" stroke-width="1.3"/>
<line x1="584.59" y1="133.1" x2="591.39" y2="133.1" stroke="#000" stroke-width="1.3"/>
<circle cx="587.99" cy="133.1" r="2.2" fill="#000"/>
<line x1="594.78" y1="141.51" x2="594.78" y2="188.2" stroke="#000" stroke-width="1.3"/>
<line x1="591.39" y1="149" x2="598.18" y2="149" stroke="#000" stroke-width="1.3"/>
<circle cx="594.78" cy="149" r="2.2" fill="#000"/>
<line x1="601.58" y1="132.57" x2="601.58" y2="146.24" stroke="#000" stroke-width="1.3"/>
<line x1="598.18" y1="137.2" x2="604.97" y2="137.2" stroke="#000" stroke-width="1.3"/>
<circle cx="601.58" cy="137.2" r="2.2" fill="#000"/>
<line x1="608.37" y1="128.16" x2="608.37" y2="138.15" stroke="#000" stroke-width="1.3"/>
<line x1="604.97" y1="132.3" x2="611.76" y2="132.3" stroke="#000" stroke-width="1.3"/>
<circle cx="608.37" cy="132.3" r="2.2" fill="#000"/>
<line x1="615.16" y1="132.57" x2="615.16" y2="146.24" stroke="#000" stroke-width="1.3"/>
<line x1="611.76" y1="137.2" x2="618.56" y2="137.2" stroke="#000" stroke-width="1.3"/>
<circle cx="615.16" cy="137.2" r="2.2" fill="#000"/>
<line x1="621.95" y1="132.57" x2="621.95" y2="146.24" stroke="#000" stroke-width="1.3"/>
<line x1="618.56" y1="137.2" x2="625.35" y2="137.2" stroke="#000" stroke-width="1.3"/>
<circle cx="621.95" cy="137.2" r="2.2" fill="#000"/>
<line x1="628.75" y1="141.51" x2="628.75" y2="188.2" stroke="#000" stroke-width="1.3"/>
<line x1="625.35" y1="149" x2="632.14" y2="149" stroke="#000" stroke-width="1.3"/>
<circle cx="628.75" cy="149" r="2.2" fill="#000"/>
<line x1="635.54" y1="135.95" x2="635.54" y2="154.25" stroke="#000" stroke-width="1.3"/>
<line x1="632.14" y1="141.9" x2="638.94" y2="141.9" stroke="#000" stroke-width="1.3"/>
<circle cx="635.54" cy="141.9" r="2.2" fill="#000"/>
<line x1="642.33" y1="130.1" x2="642.33" y2="141.51" stroke="#000" stroke-width="1.3"/>
<line x1="638.94" y1="134.4" x2="645.73" y2="134.4" stroke="#000" stroke-width="1.3"/>
<circle cx="642.33" cy="134.4" r="2.2" fill="#000"/>
<line x1="649.12" y1="135.95" x2="649.12" y2="154.25" stroke="#000" stroke-width="1.3"/>
<line x1="645.73" y1="141.9" x2="652.52" y2="141.9" stroke="#000" stroke-width="1.3"/>
<circle cx="649.12" cy="141.9" r="2.2" fill="#000"/>
<line x1="662.71" y1="141.51" x2="662.71" y2="188.2" stroke="#000" stroke-width="1.3"/>
<line x1="659.31" y1="149" x2="666.11" y2="149" stroke="#000" stroke-width="1.3"/>
<circle cx="662.71" cy="149" r="2.2" fill="#000"/>
<line x1="669.5" y1="135.95" x2="669.5" y2="154.25" stroke="#000" stroke-width="1.3"/>
<line x1="666.11" y1="141.9" x2="672.9" y2="141.9" stroke="#000" stroke-width="1.3"/>
<circle cx="669.5" cy="141.9" r="2.2" fill="#000"/>
</g>
<path d="M387.3 188.2H673.2" stroke="#000" stroke-width="1.1"/>
<path d="M387.6 185.1h4.3 M672.9 185.1h-4.3 M387.6 182.11h4.3 M672.9 182.11h-4.3 M387.6 179.79h4.3 M672.9 179.79h-4.3 M387.6 177.9h4.3 M672.9 177.9h-4.3 M387.6 176.3h4.3 M672.9 176.3h-4.3 M387.6 174.92h4.3 M672.9 174.92h-4.3 M387.6 173.69h4.3 M672.9 173.69h-4.3 M387.6 172.6h8.5 M672.9 172.6h-8.5 M387.6 165.41h4.3 M672.9 165.41h-4.3 M387.6 161.2h4.3 M672.9 161.2h-4.3 M387.6 158.21h4.3 M672.9 158.21h-4.3 M387.6 155.89h4.3 M672.9 155.89h-4.3 M387.6 154h4.3 M672.9 154h-4.3 M387.6 152.4h4.3 M672.9 152.4h-4.3 M387.6 151.02h4.3 M672.9 151.02h-4.3 M387.6 149.79h4.3 M672.9 149.79h-4.3 M387.6 148.7h8.5 M672.9 148.7h-8.5 M387.6 141.51h4.3 M672.9 141.51h-4.3 M387.6 137.3h4.3 M672.9 137.3h-4.3 M387.6 134.31h4.3 M672.9 134.31h-4.3 M387.6 131.99h4.3 M672.9 131.99h-4.3 M387.6 130.1h4.3 M672.9 130.1h-4.3 M387.6 128.5h4.3 M672.9 128.5h-4.3 M387.6 127.12h4.3 M672.9 127.12h-4.3 M387.6 125.89h4.3 M672.9 125.89h-4.3 M387.6 124.8h8.5 M672.9 124.8h-8.5 M387.6 117.61h4.3 M672.9 117.61h-4.3 M387.6 113.4h4.3 M672.9 113.4h-4.3 M387.6 110.41h4.3 M672.9 110.41h-4.3 M387.6 108.09h4.3 M672.9 108.09h-4.3 M387.6 106.2h4.3 M672.9 106.2h-4.3 M387.6 104.6h4.3 M672.9 104.6h-4.3 M387.6 103.22h4.3 M672.9 103.22h-4.3 M387.6 101.99h4.3 M672.9 101.99h-4.3 M387.6 100.9h8.5 M672.9 100.9h-8.5 M387.6 93.71h4.3 M672.9 93.71h-4.3 M387.6 89.5h4.3 M672.9 89.5h-4.3 M387.6 86.51h4.3 M672.9 86.51h-4.3 M387.6 84.19h4.3 M672.9 84.19h-4.3 M387.6 82.3h4.3 M672.9 82.3h-4.3 M387.6 80.7h4.3 M672.9 80.7h-4.3 M387.6 79.32h4.3 M672.9 79.32h-4.3 M387.6 78.09h4.3 M672.9 78.09h-4.3 M387.6 77h8.5 M672.9 77h-8.5 M387.6 69.81h4.3 M672.9 69.81h-4.3 M387.6 65.6h4.3 M672.9 65.6h-4.3 M387.6 62.61h4.3 M672.9 62.61h-4.3 M387.6 60.29h4.3 M672.9 60.29h-4.3 M387.6 58.4h4.3 M672.9 58.4h-4.3 M387.6 56.8h4.3 M672.9 56.8h-4.3 M387.6 55.42h4.3 M672.9 55.42h-4.3 M387.6 54.19h4.3 M672.9 54.19h-4.3 M387.6 53.1h8.5 M672.9 53.1h-8.5 M387.6 45.91h4.3 M672.9 45.91h-4.3 M387.6 41.7h4.3 M672.9 41.7h-4.3 M387.6 38.71h4.3 M672.9 38.71h-4.3 M387.6 36.39h4.3 M672.9 36.39h-4.3 M387.6 34.5h4.3 M672.9 34.5h-4.3 M387.6 32.9h4.3 M672.9 32.9h-4.3 M387.6 31.52h4.3 M672.9 31.52h-4.3 M387.6 30.29h4.3 M672.9 30.29h-4.3 M387.6 29.2h8.5 M672.9 29.2h-8.5 M387.6 22.01h4.3 M672.9 22.01h-4.3 M387.6 17.8h4.3 M672.9 17.8h-4.3 M387.6 14.81h4.3 M672.9 14.81h-4.3 M387.6 12.49h4.3 M672.9 12.49h-4.3 M387.6 10.6h4.3 M672.9 10.6h-4.3 M387.6 9h4.3 M672.9 9h-4.3 M387.6 7.62h4.3 M672.9 7.62h-4.3 M387.6 6.39h4.3 M672.9 6.39h-4.3 M387.6 5.3h8.5 M672.9 5.3h-8.5 M392.69 188.2v-3 M392.69 0.1v3 M401.19 188.2v-6 M401.19 0.1v6 M409.68 188.2v-3 M409.68 0.1v3 M418.17 188.2v-3 M418.17 0.1v3 M426.66 188.2v-3 M426.66 0.1v3 M435.15 188.2v-6 M435.15 0.1v6 M443.64 188.2v-3 M443.64 0.1v3 M452.13 188.2v-3 M452.13 0.1v3 M460.62 188.2v-3 M460.62 0.1v3 M469.11 188.2v-6 M469.11 0.1v6 M477.61 188.2v-3 M477.61 0.1v3 M486.1 188.2v-3 M486.1 0.1v3 M494.59 188.2v-3 M494.59 0.1v3 M503.08 188.2v-6 M503.08 0.1v6 M511.57 188.2v-3 M511.57 0.1v3 M520.06 188.2v-3 M520.06 0.1v3 M528.55 188.2v-3 M528.55 0.1v3 M537.04 188.2v-6 M537.04 0.1v6 M545.53 188.2v-3 M545.53 0.1v3 M554.03 188.2v-3 M554.03 0.1v3 M562.52 188.2v-3 M562.52 0.1v3 M571.01 188.2v-6 M571.01 0.1v6 M579.5 188.2v-3 M579.5 0.1v3 M587.99 188.2v-3 M587.99 0.1v3 M596.48 188.2v-3 M596.48 0.1v3 M604.97 188.2v-6 M604.97 0.1v6 M613.46 188.2v-3 M613.46 0.1v3 M621.95 188.2v-3 M621.95 0.1v3 M630.44 188.2v-3 M630.44 0.1v3 M638.94 188.2v-6 M638.94 0.1v6 M647.43 188.2v-3 M647.43 0.1v3 M655.92 188.2v-3 M655.92 0.1v3 M664.41 188.2v-3 M664.41 0.1v3" stroke="#000" stroke-width="0.45" fill="none"/>
<g font-size="10.9"><text x="384.8" y="178.1" text-anchor="end">10<tspan dx="-0.6" dy="-5.2" font-size="8.4"><tspan letter-spacing="-0.7">-</tspan>1</tspan></text><text x="385.4" y="154.2" text-anchor="end">1</text><text x="385.4" y="130.3" text-anchor="end">10</text><text x="384.8" y="106.4" text-anchor="end">10<tspan dx="-0.6" dy="-5.2" font-size="8.4">2</tspan></text><text x="384.8" y="82.5" text-anchor="end">10<tspan dx="-0.6" dy="-5.2" font-size="8.4">3</tspan></text><text x="384.8" y="58.6" text-anchor="end">10<tspan dx="-0.6" dy="-5.2" font-size="8.4">4</tspan></text><text x="384.8" y="34.7" text-anchor="end">10<tspan dx="-0.6" dy="-5.2" font-size="8.4">5</tspan></text><text x="384.8" y="10.8" text-anchor="end">10<tspan dx="-0.6" dy="-5.2" font-size="8.4">6</tspan></text></g>
<g font-size="10.5"><text x="401.19" y="199" text-anchor="middle">200</text><text x="435.15" y="199" text-anchor="middle">400</text><text x="469.11" y="199" text-anchor="middle">600</text><text x="503.08" y="199" text-anchor="middle">800</text><text x="537.04" y="199" text-anchor="middle">1000</text><text x="571.01" y="199" text-anchor="middle">1200</text><text x="604.97" y="199" text-anchor="middle">1400</text><text x="638.94" y="199" text-anchor="middle">1600</text><text x="672.9" y="199" text-anchor="middle">1800</text></g>
<text transform="translate(363.6 0.3) rotate(-90)" text-anchor="end" font-size="11.2">Events / 40 GeV</text>
<g font-size="11.05"><line x1="550.7" y1="11.2" x2="566.5" y2="11.2" stroke="#000" stroke-width="1.3"/>
<circle cx="558.6" cy="11.2" r="2.2"/>
<rect x="550.7" y="19.8" width="16.2" height="9.4" fill="#67e445" stroke="#4ccc34" stroke-width="0.9"/>
<rect x="550.7" y="32.8" width="16.2" height="9.4" fill="#ff8080" stroke="#e8505a" stroke-width="0.9"/>
<rect x="550.7" y="46" width="16.2" height="9.4" fill="#ffff00" stroke="#e0d800" stroke-width="0.9"/>
<rect x="550.7" y="59.3" width="16.2" height="9.4" fill="#4d4dff" stroke="#0000ff" stroke-width="0.9"/>
<line x1="550.7" y1="77.3" x2="566.5" y2="77.3" stroke="#000" stroke-width="1.3"/>
<path d="M605.5 6.6H611.8" stroke="#000" stroke-width="0.7"/>
<text x="569.9" y="15.15">Data (&#8730;s=7 TeV)</text>
<text x="569.9" y="28.1">V+Jets</text>
<text x="569.9" y="41.05">Top</text>
<text x="569.9" y="54">Multi-jet</text>
<text x="569.9" y="66.95">Diboson</text>
<text x="569.9" y="79.9">LQ (m=600 GeV)</text>
<text x="400" y="19" font-weight="bold" font-style="italic" font-size="12.9" letter-spacing="0.35">ATLAS</text>
<text x="463" y="19" font-size="10.8">LQLQ</text>
<path d="M477.3 9.8h15.2" stroke="#000" stroke-width="0.9"/>
<path d="M495.7 16h9.6 M505.4 16l-2.6 -1.8 M505.4 16l-2.6 1.8" stroke="#000" stroke-width="0.8" fill="none"/>
<text x="509" y="19" font-size="11.2" font-family="'Liberation Serif', 'Times New Roman', serif">&#956;&#957;</text>
<text x="520.4" y="19" font-size="10.8">jj</text>
<path d="M469.7 22.4 C469 21.2 467.6 21.6 467.5 24.5 L466.6 43.3 C466.5 46.2 465 46.6 464.3 45.4" stroke="#000" stroke-width="1.7" fill="none" stroke-linecap="round"/>
<circle cx="469.3" cy="22.6" r="1.25"/><circle cx="464.7" cy="45.2" r="1.25"/>
<text x="470.7" y="39.3" font-size="11.2">Ldt = 1.03 fb<tspan dx="0" dy="-6.2" font-size="6.9" letter-spacing="-0.6">-1</tspan></text></g>
<text x="629.67" y="210.1" font-size="11.1">S</text>
<text x="637.07" y="213.2" font-size="7.8">T</text>
<text x="641.84" y="210.1" font-size="11.1">&#160;[GeV]</text>
<text x="513.2" y="232" text-anchor="middle" font-family="'Liberation Serif', 'Times New Roman', serif" font-size="13.2" letter-spacing="0.7" style="stroke-width:0.2px">(b)</text>
<defs><clipPath id="clipc"><rect x="32.1" y="254.3" width="285.8" height="187.8"/></clipPath></defs>
<rect x="32.1" y="254.3" width="285.8" height="187.8" fill="none" stroke="#000" stroke-width="0.45"/>
<g clip-path="url(#clipc)">
<path d="M32.1 442.1 L32.1 315.4 L43.53 315.4 L43.53 298.3 L54.96 298.3 L54.96 294.3 L66.4 294.3 L66.4 301 L77.83 301 L77.83 310.2 L89.26 310.2 L89.26 317.6 L100.69 317.6 L100.69 324.7 L112.12 324.7 L112.12 331.4 L123.56 331.4 L123.56 337.5 L134.99 337.5 L134.99 343 L146.42 343 L146.42 349.4 L157.85 349.4 L157.85 355.2 L169.28 355.2 L169.28 360.4 L180.72 360.4 L180.72 365.1 L192.15 365.1 L192.15 369.8 L203.58 369.8 L203.58 370.9 L215.01 370.9 L215.01 375.6 L226.44 375.6 L226.44 380.3 L237.88 380.3 L237.88 386.6 L249.31 386.6 L249.31 395.1 L260.74 395.1 L260.74 393 L272.17 393 L272.17 395.4 L283.6 395.4 L283.6 391.2 L295.04 391.2 L295.04 391.9 L306.47 391.9 L306.47 381.8 L317.9 381.8 L317.9 442.1 Z" fill="#67e445" stroke="#4ccc34" stroke-width="0.9"/>
<path d="M32.1 442.1 L32.1 331.2 L43.53 331.2 L43.53 314.7 L54.96 314.7 L54.96 310.2 L66.4 310.2 L66.4 315.6 L77.83 315.6 L77.83 324.8 L89.26 324.8 L89.26 333 L100.69 333 L100.69 339.9 L112.12 339.9 L112.12 347.9 L123.56 347.9 L123.56 353 L134.99 353 L134.99 360.3 L146.42 360.3 L146.42 365.8 L157.85 365.8 L157.85 374.5 L169.28 374.5 L169.28 376.8 L180.72 376.8 L180.72 386.1 L192.15 386.1 L192.15 390.4 L203.58 390.4 L203.58 395.5 L215.01 395.5 L215.01 401.3 L226.44 401.3 L226.44 401.8 L237.88 401.8 L237.88 405.9 L249.31 405.9 L249.31 413 L260.74 413 L260.74 414.7 L272.17 414.7 L272.17 422.4 L283.6 422.4 L283.6 427 L295.04 427 L295.04 434.7 L306.47 434.7 L306.47 388.4 L317.9 388.4 L317.9 442.1 Z" fill="#ff8080" stroke="#e8505a" stroke-width="0.9"/>
<path d="M32.1 442.1 L32.1 333.4 L43.53 333.4 L43.53 320.2 L54.96 320.2 L54.96 317.5 L66.4 317.5 L66.4 326.6 L77.83 326.6 L77.83 334.8 L89.26 334.8 L89.26 344.5 L100.69 344.5 L100.69 352.1 L112.12 352.1 L112.12 361.2 L123.56 361.2 L123.56 363 L134.99 363 L134.99 370.4 L146.42 370.4 L146.42 379 L157.85 379 L157.85 399 L169.28 399 L169.28 387.3 L180.72 387.3 L180.72 411.9 L192.15 411.9 L192.15 418.9 L203.58 418.9 L203.58 420.1 L215.01 420.1 L215.01 424.7 L226.44 424.7 L226.44 416.5 L237.88 416.5 L237.88 425.7 L249.31 425.7 L249.31 436.3 L260.74 436.3 L260.74 442.1 L272.17 442.1 L272.17 442.1 L283.6 442.1 L283.6 432.2 L295.04 432.2 L295.04 442.1 L306.47 442.1 L306.47 388.4 L317.9 388.4 L317.9 442.1 Z" fill="#ffff00" stroke="#e0d800" stroke-width="0.9"/>
<path d="M32.1 442.1 L32.1 364.1 L43.53 364.1 L43.53 345.8 L54.96 345.8 L54.96 341.2 L66.4 341.2 L66.4 349.1 L77.83 349.1 L77.83 356.8 L89.26 356.8 L89.26 364.3 L100.69 364.3 L100.69 371.2 L112.12 371.2 L112.12 377.3 L123.56 377.3 L123.56 384.2 L134.99 384.2 L134.99 387.7 L146.42 387.7 L146.42 396.3 L157.85 396.3 L157.85 399 L169.28 399 L169.28 404.9 L180.72 404.9 L180.72 411.9 L192.15 411.9 L192.15 418.9 L203.58 418.9 L203.58 420.1 L215.01 420.1 L215.01 424.7 L226.44 424.7 L226.44 421.7 L237.88 421.7 L237.88 425.7 L249.31 425.7 L249.31 436.3 L260.74 436.3 L260.74 442.1 L272.17 442.1 L272.17 442.1 L283.6 442.1 L283.6 432.2 L295.04 432.2 L295.04 442.1 L306.47 442.1 L306.47 440.9 L317.9 440.9 L317.9 442.1 Z" fill="#4d4dff" stroke="#0000ff" stroke-width="0.9"/>
<path d="M32.1 444.1 L32.1 444.1 L43.53 444.1 L43.53 444.1 L54.96 444.1 L54.96 440.1 L66.4 440.1 L66.4 433.6 L77.83 433.6 L77.83 431.7 L89.26 431.7 L89.26 429.4 L100.69 429.4 L100.69 427.5 L112.12 427.5 L112.12 427.4 L123.56 427.4 L123.56 425.3 L134.99 425.3 L134.99 423.6 L146.42 423.6 L146.42 424.8 L157.85 424.8 L157.85 419.8 L169.28 419.8 L169.28 418.9 L180.72 418.9 L180.72 415.4 L192.15 415.4 L192.15 407.2 L203.58 407.2 L203.58 403 L215.01 403 L215.01 412.3 L226.44 412.3 L226.44 428 L237.88 428 L237.88 435.6 L249.31 435.6 L249.31 436.3 L260.74 436.3 L260.74 444.1 L272.17 444.1 L272.17 444.1 L283.6 444.1 L283.6 444.1 L295.04 444.1 L295.04 444.1 L306.47 444.1 L306.47 444.1 L317.9 444.1" fill="none" stroke="#000" stroke-width="1.4"/>
<line x1="32.1" y1="315.4" x2="43.53" y2="315.4" stroke="#000" stroke-width="1.3"/>
<circle cx="37.82" cy="315.4" r="2.2" fill="#000"/>
<line x1="43.53" y1="298.3" x2="54.96" y2="298.3" stroke="#000" stroke-width="1.3"/>
<circle cx="49.25" cy="298.3" r="2.2" fill="#000"/>
<line x1="54.96" y1="294.3" x2="66.4" y2="294.3" stroke="#000" stroke-width="1.3"/>
<circle cx="60.68" cy="294.3" r="2.2" fill="#000"/>
<line x1="66.4" y1="301" x2="77.83" y2="301" stroke="#000" stroke-width="1.3"/>
<circle cx="72.11" cy="301" r="2.2" fill="#000"/>
<line x1="77.83" y1="310" x2="89.26" y2="310" stroke="#000" stroke-width="1.3"/>
<circle cx="83.54" cy="310" r="2.2" fill="#000"/>
<line x1="89.26" y1="317.6" x2="100.69" y2="317.6" stroke="#000" stroke-width="1.3"/>
<circle cx="94.98" cy="317.6" r="2.2" fill="#000"/>
<line x1="100.69" y1="325.2" x2="112.12" y2="325.2" stroke="#000" stroke-width="1.3"/>
<circle cx="106.41" cy="325.2" r="2.2" fill="#000"/>
<line x1="112.12" y1="332" x2="123.56" y2="332" stroke="#000" stroke-width="1.3"/>
<circle cx="117.84" cy="332" r="2.2" fill="#000"/>
<line x1="123.56" y1="338" x2="134.99" y2="338" stroke="#000" stroke-width="1.3"/>
<circle cx="129.27" cy="338" r="2.2" fill="#000"/>
<line x1="134.99" y1="343.3" x2="146.42" y2="343.3" stroke="#000" stroke-width="1.3"/>
<circle cx="140.7" cy="343.3" r="2.2" fill="#000"/>
<line x1="146.42" y1="349.7" x2="157.85" y2="349.7" stroke="#000" stroke-width="1.3"/>
<circle cx="152.14" cy="349.7" r="2.2" fill="#000"/>
<line x1="157.85" y1="355.4" x2="169.28" y2="355.4" stroke="#000" stroke-width="1.3"/>
<circle cx="163.57" cy="355.4" r="2.2" fill="#000"/>
<line x1="169.28" y1="360.4" x2="180.72" y2="360.4" stroke="#000" stroke-width="1.3"/>
<circle cx="175" cy="360.4" r="2.2" fill="#000"/>
<line x1="186.43" y1="364.1" x2="186.43" y2="367.6" stroke="#000" stroke-width="1.3"/>
<line x1="180.72" y1="365.6" x2="192.15" y2="365.6" stroke="#000" stroke-width="1.3"/>
<circle cx="186.43" cy="365.6" r="2.2" fill="#000"/>
<line x1="197.86" y1="368.39" x2="197.86" y2="372.78" stroke="#000" stroke-width="1.3"/>
<line x1="192.15" y1="370.2" x2="203.58" y2="370.2" stroke="#000" stroke-width="1.3"/>
<circle cx="197.86" cy="370.2" r="2.2" fill="#000"/>
<line x1="209.3" y1="368.39" x2="209.3" y2="372.78" stroke="#000" stroke-width="1.3"/>
<line x1="203.58" y1="370.2" x2="215.01" y2="370.2" stroke="#000" stroke-width="1.3"/>
<circle cx="209.3" cy="370.2" r="2.2" fill="#000"/>
<line x1="220.73" y1="373.74" x2="220.73" y2="379.65" stroke="#000" stroke-width="1.3"/>
<line x1="215.01" y1="376.3" x2="226.44" y2="376.3" stroke="#000" stroke-width="1.3"/>
<circle cx="220.73" cy="376.3" r="2.2" fill="#000"/>
<line x1="232.16" y1="377.11" x2="232.16" y2="384.3" stroke="#000" stroke-width="1.3"/>
<line x1="226.44" y1="380.3" x2="237.88" y2="380.3" stroke="#000" stroke-width="1.3"/>
<circle cx="232.16" cy="380.3" r="2.2" fill="#000"/>
<line x1="243.59" y1="378.17" x2="243.59" y2="385.84" stroke="#000" stroke-width="1.3"/>
<line x1="237.88" y1="381.6" x2="249.31" y2="381.6" stroke="#000" stroke-width="1.3"/>
<circle cx="243.59" cy="381.6" r="2.2" fill="#000"/>
<line x1="255.02" y1="386.77" x2="255.02" y2="400.44" stroke="#000" stroke-width="1.3"/>
<line x1="249.31" y1="391.4" x2="260.74" y2="391.4" stroke="#000" stroke-width="1.3"/>
<circle cx="255.02" cy="391.4" r="2.2" fill="#000"/>
<line x1="266.46" y1="384.3" x2="266.46" y2="395.71" stroke="#000" stroke-width="1.3"/>
<line x1="260.74" y1="387.9" x2="272.17" y2="387.9" stroke="#000" stroke-width="1.3"/>
<circle cx="266.46" cy="387.9" r="2.2" fill="#000"/>
<line x1="277.89" y1="395.71" x2="277.89" y2="442.1" stroke="#000" stroke-width="1.3"/>
<line x1="272.17" y1="402.9" x2="283.6" y2="402.9" stroke="#000" stroke-width="1.3"/>
<circle cx="277.89" cy="402.9" r="2.2" fill="#000"/>
<line x1="300.75" y1="390.15" x2="300.75" y2="408.45" stroke="#000" stroke-width="1.3"/>
<line x1="295.04" y1="395.9" x2="306.47" y2="395.9" stroke="#000" stroke-width="1.3"/>
<circle cx="300.75" cy="395.9" r="2.2" fill="#000"/>
</g>
<path d="M31.8 442.1H318.2" stroke="#000" stroke-width="1.1"/>
<path d="M32.1 439.3h4.3 M317.9 439.3h-4.3 M32.1 436.31h4.3 M317.9 436.31h-4.3 M32.1 433.99h4.3 M317.9 433.99h-4.3 M32.1 432.1h4.3 M317.9 432.1h-4.3 M32.1 430.5h4.3 M317.9 430.5h-4.3 M32.1 429.12h4.3 M317.9 429.12h-4.3 M32.1 427.89h4.3 M317.9 427.89h-4.3 M32.1 426.8h8.5 M317.9 426.8h-8.5 M32.1 419.61h4.3 M317.9 419.61h-4.3 M32.1 415.4h4.3 M317.9 415.4h-4.3 M32.1 412.41h4.3 M317.9 412.41h-4.3 M32.1 410.09h4.3 M317.9 410.09h-4.3 M32.1 408.2h4.3 M317.9 408.2h-4.3 M32.1 406.6h4.3 M317.9 406.6h-4.3 M32.1 405.22h4.3 M317.9 405.22h-4.3 M32.1 403.99h4.3 M317.9 403.99h-4.3 M32.1 402.9h8.5 M317.9 402.9h-8.5 M32.1 395.71h4.3 M317.9 395.71h-4.3 M32.1 391.5h4.3 M317.9 391.5h-4.3 M32.1 388.51h4.3 M317.9 388.51h-4.3 M32.1 386.19h4.3 M317.9 386.19h-4.3 M32.1 384.3h4.3 M317.9 384.3h-4.3 M32.1 382.7h4.3 M317.9 382.7h-4.3 M32.1 381.32h4.3 M317.9 381.32h-4.3 M32.1 380.09h4.3 M317.9 380.09h-4.3 M32.1 379h8.5 M317.9 379h-8.5 M32.1 371.81h4.3 M317.9 371.81h-4.3 M32.1 367.6h4.3 M317.9 367.6h-4.3 M32.1 364.61h4.3 M317.9 364.61h-4.3 M32.1 362.29h4.3 M317.9 362.29h-4.3 M32.1 360.4h4.3 M317.9 360.4h-4.3 M32.1 358.8h4.3 M317.9 358.8h-4.3 M32.1 357.42h4.3 M317.9 357.42h-4.3 M32.1 356.19h4.3 M317.9 356.19h-4.3 M32.1 355.1h8.5 M317.9 355.1h-8.5 M32.1 347.91h4.3 M317.9 347.91h-4.3 M32.1 343.7h4.3 M317.9 343.7h-4.3 M32.1 340.71h4.3 M317.9 340.71h-4.3 M32.1 338.39h4.3 M317.9 338.39h-4.3 M32.1 336.5h4.3 M317.9 336.5h-4.3 M32.1 334.9h4.3 M317.9 334.9h-4.3 M32.1 333.52h4.3 M317.9 333.52h-4.3 M32.1 332.29h4.3 M317.9 332.29h-4.3 M32.1 331.2h8.5 M317.9 331.2h-8.5 M32.1 324.01h4.3 M317.9 324.01h-4.3 M32.1 319.8h4.3 M317.9 319.8h-4.3 M32.1 316.81h4.3 M317.9 316.81h-4.3 M32.1 314.49h4.3 M317.9 314.49h-4.3 M32.1 312.6h4.3 M317.9 312.6h-4.3 M32.1 311h4.3 M317.9 311h-4.3 M32.1 309.62h4.3 M317.9 309.62h-4.3 M32.1 308.39h4.3 M317.9 308.39h-4.3 M32.1 307.3h8.5 M317.9 307.3h-8.5 M32.1 300.11h4.3 M317.9 300.11h-4.3 M32.1 295.9h4.3 M317.9 295.9h-4.3 M32.1 292.91h4.3 M317.9 292.91h-4.3 M32.1 290.59h4.3 M317.9 290.59h-4.3 M32.1 288.7h4.3 M317.9 288.7h-4.3 M32.1 287.1h4.3 M317.9 287.1h-4.3 M32.1 285.72h4.3 M317.9 285.72h-4.3 M32.1 284.49h4.3 M317.9 284.49h-4.3 M32.1 283.4h8.5 M317.9 283.4h-8.5 M32.1 276.21h4.3 M317.9 276.21h-4.3 M32.1 272h4.3 M317.9 272h-4.3 M32.1 269.01h4.3 M317.9 269.01h-4.3 M32.1 266.69h4.3 M317.9 266.69h-4.3 M32.1 264.8h4.3 M317.9 264.8h-4.3 M32.1 263.2h4.3 M317.9 263.2h-4.3 M32.1 261.82h4.3 M317.9 261.82h-4.3 M32.1 260.59h4.3 M317.9 260.59h-4.3 M32.1 259.5h8.5 M317.9 259.5h-8.5 M37.82 442.1v-3 M37.82 254.3v3 M43.53 442.1v-3 M43.53 254.3v3 M49.25 442.1v-3 M49.25 254.3v3 M54.96 442.1v-3 M54.96 254.3v3 M60.68 442.1v-6 M60.68 254.3v6 M66.4 442.1v-3 M66.4 254.3v3 M72.11 442.1v-3 M72.11 254.3v3 M77.83 442.1v-3 M77.83 254.3v3 M83.54 442.1v-3 M83.54 254.3v3 M89.26 442.1v-6 M89.26 254.3v6 M94.98 442.1v-3 M94.98 254.3v3 M100.69 442.1v-3 M100.69 254.3v3 M106.41 442.1v-3 M106.41 254.3v3 M112.12 442.1v-3 M112.12 254.3v3 M117.84 442.1v-6 M117.84 254.3v6 M123.56 442.1v-3 M123.56 254.3v3 M129.27 442.1v-3 M129.27 254.3v3 M134.99 442.1v-3 M134.99 254.3v3 M140.7 442.1v-3 M140.7 254.3v3 M146.42 442.1v-6 M146.42 254.3v6 M152.14 442.1v-3 M152.14 254.3v3 M157.85 442.1v-3 M157.85 254.3v3 M163.57 442.1v-3 M163.57 254.3v3 M169.28 442.1v-3 M169.28 254.3v3 M175 442.1v-6 M175 254.3v6 M180.72 442.1v-3 M180.72 254.3v3 M186.43 442.1v-3 M186.43 254.3v3 M192.15 442.1v-3 M192.15 254.3v3 M197.86 442.1v-3 M197.86 254.3v3 M203.58 442.1v-6 M203.58 254.3v6 M209.3 442.1v-3 M209.3 254.3v3 M215.01 442.1v-3 M215.01 254.3v3 M220.73 442.1v-3 M220.73 254.3v3 M226.44 442.1v-3 M226.44 254.3v3 M232.16 442.1v-6 M232.16 254.3v6 M237.88 442.1v-3 M237.88 254.3v3 M243.59 442.1v-3 M243.59 254.3v3 M249.31 442.1v-3 M249.31 254.3v3 M255.02 442.1v-3 M255.02 254.3v3 M260.74 442.1v-6 M260.74 254.3v6 M266.46 442.1v-3 M266.46 254.3v3 M272.17 442.1v-3 M272.17 254.3v3 M277.89 442.1v-3 M277.89 254.3v3 M283.6 442.1v-3 M283.6 254.3v3 M289.32 442.1v-6 M289.32 254.3v6 M295.04 442.1v-3 M295.04 254.3v3 M300.75 442.1v-3 M300.75 254.3v3 M306.47 442.1v-3 M306.47 254.3v3 M312.18 442.1v-3 M312.18 254.3v3" stroke="#000" stroke-width="0.45" fill="none"/>
<g font-size="10.9"><text x="29.3" y="432.3" text-anchor="end">10<tspan dx="-0.6" dy="-5.2" font-size="8.4"><tspan letter-spacing="-0.7">-</tspan>1</tspan></text><text x="29.9" y="408.4" text-anchor="end">1</text><text x="29.9" y="384.5" text-anchor="end">10</text><text x="29.3" y="360.6" text-anchor="end">10<tspan dx="-0.6" dy="-5.2" font-size="8.4">2</tspan></text><text x="29.3" y="336.7" text-anchor="end">10<tspan dx="-0.6" dy="-5.2" font-size="8.4">3</tspan></text><text x="29.3" y="312.8" text-anchor="end">10<tspan dx="-0.6" dy="-5.2" font-size="8.4">4</tspan></text><text x="29.3" y="288.9" text-anchor="end">10<tspan dx="-0.6" dy="-5.2" font-size="8.4">5</tspan></text><text x="29.3" y="265" text-anchor="end">10<tspan dx="-0.6" dy="-5.2" font-size="8.4">6</tspan></text></g>
<g font-size="10.5"><text x="32.1" y="452.9" text-anchor="middle">0</text><text x="60.68" y="452.9" text-anchor="middle">100</text><text x="89.26" y="452.9" text-anchor="middle">200</text><text x="117.84" y="452.9" text-anchor="middle">300</text><text x="146.42" y="452.9" text-anchor="middle">400</text><text x="175" y="452.9" text-anchor="middle">500</text><text x="203.58" y="452.9" text-anchor="middle">600</text><text x="232.16" y="452.9" text-anchor="middle">700</text><text x="260.74" y="452.9" text-anchor="middle">800</text><text x="289.32" y="452.9" text-anchor="middle">900</text><text x="317.9" y="452.9" text-anchor="middle">1000</text></g>
<text transform="translate(8.1 254.5) rotate(-90)" text-anchor="end" font-size="11.2">Events / 40 GeV</text>
<g font-size="11.05"><line x1="195.2" y1="265.4" x2="211" y2="265.4" stroke="#000" stroke-width="1.3"/>
<circle cx="203.1" cy="265.4" r="2.2"/>
<rect x="195.2" y="274" width="16.2" height="9.4" fill="#67e445" stroke="#4ccc34" stroke-width="0.9"/>
<rect x="195.2" y="287" width="16.2" height="9.4" fill="#ff8080" stroke="#e8505a" stroke-width="0.9"/>
<rect x="195.2" y="300.2" width="16.2" height="9.4" fill="#ffff00" stroke="#e0d800" stroke-width="0.9"/>
<rect x="195.2" y="313.5" width="16.2" height="9.4" fill="#4d4dff" stroke="#0000ff" stroke-width="0.9"/>
<line x1="195.2" y1="331.5" x2="211" y2="331.5" stroke="#000" stroke-width="1.3"/>
<path d="M250 260.8H256.3" stroke="#000" stroke-width="0.7"/>
<text x="214.4" y="269.35">Data (&#8730;s=7 TeV)</text>
<text x="214.4" y="282.3">V+Jets</text>
<text x="214.4" y="295.25">Top</text>
<text x="214.4" y="308.2">Multi-jet</text>
<text x="214.4" y="321.15">Diboson</text>
<text x="214.4" y="334.1">LQ (m=600 GeV)</text>
<text x="44.5" y="273.2" font-weight="bold" font-style="italic" font-size="12.9" letter-spacing="0.35">ATLAS</text>
<text x="107.5" y="273.2" font-size="10.8">LQLQ</text>
<path d="M121.8 264h15.2" stroke="#000" stroke-width="0.9"/>
<path d="M140.2 270.2h9.6 M149.9 270.2l-2.6 -1.8 M149.9 270.2l-2.6 1.8" stroke="#000" stroke-width="0.8" fill="none"/>
<text x="153.5" y="273.2" font-size="11.2" font-family="'Liberation Serif', 'Times New Roman', serif">&#956;&#957;</text>
<text x="164.9" y="273.2" font-size="10.8">jj</text>
<path d="M114.2 276.6 C113.5 275.4 112.1 275.8 112 278.7 L111.1 297.5 C111 300.4 109.5 300.8 108.8 299.6" stroke="#000" stroke-width="1.7" fill="none" stroke-linecap="round"/>
<circle cx="113.8" cy="276.8" r="1.25"/><circle cx="109.2" cy="299.4" r="1.25"/>
<text x="115.2" y="293.5" font-size="11.2">Ldt = 1.03 fb<tspan dx="0" dy="-6.2" font-size="6.9" letter-spacing="-0.6">-1</tspan></text></g>
<text x="218.97" y="464" font-size="11.1">Leptoquark&#160;m&#160;[GeV]</text>
<text x="157.7" y="488.6" text-anchor="middle" font-family="'Liberation Serif', 'Times New Roman', serif" font-size="13.2" letter-spacing="0.7" style="stroke-width:0.2px">(c)</text>
<defs><clipPath id="clipd"><rect x="387.7" y="254.3" width="285.2" height="187.9"/></clipPath></defs>
<rect x="387.7" y="254.3" width="285.2" height="187.9" fill="none" stroke="#000" stroke-width="0.45"/>
<g clip-path="url(#clipd)">
<path d="M387.7 442.2 L387.7 305.6 L399.11 305.6 L399.11 295.9 L410.52 295.9 L410.52 295.9 L421.92 295.9 L421.92 304.7 L433.33 304.7 L433.33 314.7 L444.74 314.7 L444.74 324.7 L456.15 324.7 L456.15 332.9 L467.56 332.9 L467.56 339.8 L478.96 339.8 L478.96 347.5 L490.37 347.5 L490.37 355.7 L501.78 355.7 L501.78 360.3 L513.19 360.3 L513.19 363 L524.6 363 L524.6 367.8 L536 367.8 L536 373.2 L547.41 373.2 L547.41 379 L558.82 379 L558.82 381.4 L570.23 381.4 L570.23 389.6 L581.64 389.6 L581.64 389 L593.04 389 L593.04 390.7 L604.45 390.7 L604.45 399.6 L615.86 399.6 L615.86 397.7 L627.27 397.7 L627.27 407.5 L638.68 407.5 L638.68 410.6 L650.08 410.6 L650.08 412.2 L661.49 412.2 L661.49 397.7 L672.9 397.7 L672.9 442.2 Z" fill="#67e445" stroke="#4ccc34" stroke-width="0.9"/>
<path d="M387.7 442.2 L387.7 319.3 L399.11 319.3 L399.11 312.9 L410.52 312.9 L410.52 312.5 L421.92 312.5 L421.92 318.4 L433.33 318.4 L433.33 327.5 L444.74 327.5 L444.74 336.6 L456.15 336.6 L456.15 345.6 L467.56 345.6 L467.56 353 L478.96 353 L478.96 361.2 L490.37 361.2 L490.37 365.8 L501.78 365.8 L501.78 374.9 L513.19 374.9 L513.19 382 L524.6 382 L524.6 386 L536 386 L536 390.3 L547.41 390.3 L547.41 400.1 L558.82 400.1 L558.82 405.9 L570.23 405.9 L570.23 405.9 L581.64 405.9 L581.64 404.3 L593.04 404.3 L593.04 418.7 L604.45 418.7 L604.45 417.6 L615.86 417.6 L615.86 425.3 L627.27 425.3 L627.27 426.9 L638.68 426.9 L638.68 442.2 L650.08 442.2 L650.08 433.9 L661.49 433.9 L661.49 417.6 L672.9 417.6 L672.9 442.2 Z" fill="#ff8080" stroke="#e8505a" stroke-width="0.9"/>
<path d="M387.7 442.2 L387.7 321.7 L399.11 321.7 L399.11 316.6 L410.52 316.6 L410.52 320.6 L421.92 320.6 L421.92 334.8 L433.33 334.8 L433.33 345.8 L444.74 345.8 L444.74 356.2 L456.15 356.2 L456.15 368.1 L467.56 368.1 L467.56 377.6 L478.96 377.6 L478.96 384.2 L490.37 384.2 L490.37 380.6 L501.78 380.6 L501.78 404.3 L513.19 404.3 L513.19 412.4 L524.6 412.4 L524.6 417.4 L536 417.4 L536 417.6 L547.41 417.6 L547.41 429.3 L558.82 429.3 L558.82 431.6 L570.23 431.6 L570.23 428.6 L581.64 428.6 L581.64 442.2 L593.04 442.2 L593.04 436.3 L604.45 436.3 L604.45 442.2 L615.86 442.2 L615.86 442.2 L627.27 442.2 L627.27 441 L638.68 441 L638.68 442.2 L650.08 442.2 L650.08 442.2 L661.49 442.2 L661.49 442.2 L672.9 442.2 L672.9 442.2 Z" fill="#ffff00" stroke="#e0d800" stroke-width="0.9"/>
<path d="M387.7 442.2 L387.7 354.6 L399.11 354.6 L399.11 342.5 L410.52 342.5 L410.52 341.6 L421.92 341.6 L421.92 351.8 L433.33 351.8 L433.33 362.3 L444.74 362.3 L444.74 371.8 L456.15 371.8 L456.15 379.1 L467.56 379.1 L467.56 386.4 L478.96 386.4 L478.96 393.8 L490.37 393.8 L490.37 399 L501.78 399 L501.78 404.3 L513.19 404.3 L513.19 412.4 L524.6 412.4 L524.6 417.4 L536 417.4 L536 417.6 L547.41 417.6 L547.41 429.3 L558.82 429.3 L558.82 431.6 L570.23 431.6 L570.23 428.6 L581.64 428.6 L581.64 442.2 L593.04 442.2 L593.04 436.3 L604.45 436.3 L604.45 442.2 L615.86 442.2 L615.86 442.2 L627.27 442.2 L627.27 441 L638.68 441 L638.68 442.2 L650.08 442.2 L650.08 442.2 L661.49 442.2 L661.49 442.2 L672.9 442.2 L672.9 442.2 Z" fill="#4d4dff" stroke="#0000ff" stroke-width="0.9"/>
<path d="M387.7 444.2 L387.7 435.6 L399.11 435.6 L399.11 431.8 L410.52 431.8 L410.52 434.7 L421.92 434.7 L421.92 429.8 L433.33 429.8 L433.33 427.1 L444.74 427.1 L444.74 424.7 L456.15 424.7 L456.15 422 L467.56 422 L467.56 420.6 L478.96 420.6 L478.96 418.8 L490.37 418.8 L490.37 417.2 L501.78 417.2 L501.78 415.4 L513.19 415.4 L513.19 414.3 L524.6 414.3 L524.6 411.8 L536 411.8 L536 410.6 L547.41 410.6 L547.41 411.7 L558.82 411.7 L558.82 416.4 L570.23 416.4 L570.23 423.4 L581.64 423.4 L581.64 432.3 L593.04 432.3 L593.04 441 L604.45 441 L604.45 444.2 L615.86 444.2 L615.86 444.2 L627.27 444.2 L627.27 444.2 L638.68 444.2 L638.68 444.2 L650.08 444.2 L650.08 444.2 L661.49 444.2 L661.49 444.2 L672.9 444.2" fill="none" stroke="#000" stroke-width="1.4"/>
<line x1="387.7" y1="305.6" x2="399.11" y2="305.6" stroke="#000" stroke-width="1.3"/>
<circle cx="393.4" cy="305.6" r="2.2" fill="#000"/>
<line x1="399.11" y1="295.6" x2="410.52" y2="295.6" stroke="#000" stroke-width="1.3"/>
<circle cx="404.81" cy="295.6" r="2.2" fill="#000"/>
<line x1="410.52" y1="295.6" x2="421.92" y2="295.6" stroke="#000" stroke-width="1.3"/>
<circle cx="416.22" cy="295.6" r="2.2" fill="#000"/>
<line x1="421.92" y1="304.7" x2="433.33" y2="304.7" stroke="#000" stroke-width="1.3"/>
<circle cx="427.63" cy="304.7" r="2.2" fill="#000"/>
<line x1="433.33" y1="314.7" x2="444.74" y2="314.7" stroke="#000" stroke-width="1.3"/>
<circle cx="439.04" cy="314.7" r="2.2" fill="#000"/>
<line x1="444.74" y1="324.4" x2="456.15" y2="324.4" stroke="#000" stroke-width="1.3"/>
<circle cx="450.44" cy="324.4" r="2.2" fill="#000"/>
<line x1="456.15" y1="332.9" x2="467.56" y2="332.9" stroke="#000" stroke-width="1.3"/>
<circle cx="461.85" cy="332.9" r="2.2" fill="#000"/>
<line x1="467.56" y1="340.1" x2="478.96" y2="340.1" stroke="#000" stroke-width="1.3"/>
<circle cx="473.26" cy="340.1" r="2.2" fill="#000"/>
<line x1="478.96" y1="348" x2="490.37" y2="348" stroke="#000" stroke-width="1.3"/>
<circle cx="484.67" cy="348" r="2.2" fill="#000"/>
<line x1="490.37" y1="356" x2="501.78" y2="356" stroke="#000" stroke-width="1.3"/>
<circle cx="496.08" cy="356" r="2.2" fill="#000"/>
<line x1="501.78" y1="360.3" x2="513.19" y2="360.3" stroke="#000" stroke-width="1.3"/>
<circle cx="507.48" cy="360.3" r="2.2" fill="#000"/>
<line x1="513.19" y1="362.5" x2="524.6" y2="362.5" stroke="#000" stroke-width="1.3"/>
<circle cx="518.89" cy="362.5" r="2.2" fill="#000"/>
<line x1="530.3" y1="366.86" x2="530.3" y2="370.91" stroke="#000" stroke-width="1.3"/>
<line x1="524.6" y1="368.5" x2="536" y2="368.5" stroke="#000" stroke-width="1.3"/>
<circle cx="530.3" cy="368.5" r="2.2" fill="#000"/>
<line x1="541.71" y1="371.81" x2="541.71" y2="377.11" stroke="#000" stroke-width="1.3"/>
<line x1="536" y1="373.9" x2="547.41" y2="373.9" stroke="#000" stroke-width="1.3"/>
<circle cx="541.71" cy="373.9" r="2.2" fill="#000"/>
<line x1="553.12" y1="384.3" x2="553.12" y2="395.71" stroke="#000" stroke-width="1.3"/>
<line x1="547.41" y1="388.4" x2="558.82" y2="388.4" stroke="#000" stroke-width="1.3"/>
<circle cx="553.12" cy="388.4" r="2.2" fill="#000"/>
<line x1="564.52" y1="380.75" x2="564.52" y2="389.75" stroke="#000" stroke-width="1.3"/>
<line x1="558.82" y1="384.9" x2="570.23" y2="384.9" stroke="#000" stroke-width="1.3"/>
<circle cx="564.52" cy="384.9" r="2.2" fill="#000"/>
<line x1="575.93" y1="382.36" x2="575.93" y2="392.35" stroke="#000" stroke-width="1.3"/>
<line x1="570.23" y1="386.5" x2="581.64" y2="386.5" stroke="#000" stroke-width="1.3"/>
<circle cx="575.93" cy="386.5" r="2.2" fill="#000"/>
<line x1="587.34" y1="380.75" x2="587.34" y2="389.75" stroke="#000" stroke-width="1.3"/>
<line x1="581.64" y1="384.9" x2="593.04" y2="384.9" stroke="#000" stroke-width="1.3"/>
<circle cx="587.34" cy="384.9" r="2.2" fill="#000"/>
<line x1="598.75" y1="386.77" x2="598.75" y2="400.44" stroke="#000" stroke-width="1.3"/>
<line x1="593.04" y1="391.9" x2="604.45" y2="391.9" stroke="#000" stroke-width="1.3"/>
<circle cx="598.75" cy="391.9" r="2.2" fill="#000"/>
<line x1="621.56" y1="386.77" x2="621.56" y2="400.44" stroke="#000" stroke-width="1.3"/>
<line x1="615.86" y1="391.9" x2="627.27" y2="391.9" stroke="#000" stroke-width="1.3"/>
<circle cx="621.56" cy="391.9" r="2.2" fill="#000"/>
<line x1="667.2" y1="395.71" x2="667.2" y2="442.2" stroke="#000" stroke-width="1.3"/>
<line x1="661.49" y1="402.9" x2="672.9" y2="402.9" stroke="#000" stroke-width="1.3"/>
<circle cx="667.2" cy="402.9" r="2.2" fill="#000"/>
</g>
<path d="M387.4 442.2H673.2" stroke="#000" stroke-width="1.1"/>
<path d="M387.7 439.3h4.3 M672.9 439.3h-4.3 M387.7 436.31h4.3 M672.9 436.31h-4.3 M387.7 433.99h4.3 M672.9 433.99h-4.3 M387.7 432.1h4.3 M672.9 432.1h-4.3 M387.7 430.5h4.3 M672.9 430.5h-4.3 M387.7 429.12h4.3 M672.9 429.12h-4.3 M387.7 427.89h4.3 M672.9 427.89h-4.3 M387.7 426.8h8.5 M672.9 426.8h-8.5 M387.7 419.61h4.3 M672.9 419.61h-4.3 M387.7 415.4h4.3 M672.9 415.4h-4.3 M387.7 412.41h4.3 M672.9 412.41h-4.3 M387.7 410.09h4.3 M672.9 410.09h-4.3 M387.7 408.2h4.3 M672.9 408.2h-4.3 M387.7 406.6h4.3 M672.9 406.6h-4.3 M387.7 405.22h4.3 M672.9 405.22h-4.3 M387.7 403.99h4.3 M672.9 403.99h-4.3 M387.7 402.9h8.5 M672.9 402.9h-8.5 M387.7 395.71h4.3 M672.9 395.71h-4.3 M387.7 391.5h4.3 M672.9 391.5h-4.3 M387.7 388.51h4.3 M672.9 388.51h-4.3 M387.7 386.19h4.3 M672.9 386.19h-4.3 M387.7 384.3h4.3 M672.9 384.3h-4.3 M387.7 382.7h4.3 M672.9 382.7h-4.3 M387.7 381.32h4.3 M672.9 381.32h-4.3 M387.7 380.09h4.3 M672.9 380.09h-4.3 M387.7 379h8.5 M672.9 379h-8.5 M387.7 371.81h4.3 M672.9 371.81h-4.3 M387.7 367.6h4.3 M672.9 367.6h-4.3 M387.7 364.61h4.3 M672.9 364.61h-4.3 M387.7 362.29h4.3 M672.9 362.29h-4.3 M387.7 360.4h4.3 M672.9 360.4h-4.3 M387.7 358.8h4.3 M672.9 358.8h-4.3 M387.7 357.42h4.3 M672.9 357.42h-4.3 M387.7 356.19h4.3 M672.9 356.19h-4.3 M387.7 355.1h8.5 M672.9 355.1h-8.5 M387.7 347.91h4.3 M672.9 347.91h-4.3 M387.7 343.7h4.3 M672.9 343.7h-4.3 M387.7 340.71h4.3 M672.9 340.71h-4.3 M387.7 338.39h4.3 M672.9 338.39h-4.3 M387.7 336.5h4.3 M672.9 336.5h-4.3 M387.7 334.9h4.3 M672.9 334.9h-4.3 M387.7 333.52h4.3 M672.9 333.52h-4.3 M387.7 332.29h4.3 M672.9 332.29h-4.3 M387.7 331.2h8.5 M672.9 331.2h-8.5 M387.7 324.01h4.3 M672.9 324.01h-4.3 M387.7 319.8h4.3 M672.9 319.8h-4.3 M387.7 316.81h4.3 M672.9 316.81h-4.3 M387.7 314.49h4.3 M672.9 314.49h-4.3 M387.7 312.6h4.3 M672.9 312.6h-4.3 M387.7 311h4.3 M672.9 311h-4.3 M387.7 309.62h4.3 M672.9 309.62h-4.3 M387.7 308.39h4.3 M672.9 308.39h-4.3 M387.7 307.3h8.5 M672.9 307.3h-8.5 M387.7 300.11h4.3 M672.9 300.11h-4.3 M387.7 295.9h4.3 M672.9 295.9h-4.3 M387.7 292.91h4.3 M672.9 292.91h-4.3 M387.7 290.59h4.3 M672.9 290.59h-4.3 M387.7 288.7h4.3 M672.9 288.7h-4.3 M387.7 287.1h4.3 M672.9 287.1h-4.3 M387.7 285.72h4.3 M672.9 285.72h-4.3 M387.7 284.49h4.3 M672.9 284.49h-4.3 M387.7 283.4h8.5 M672.9 283.4h-8.5 M387.7 276.21h4.3 M672.9 276.21h-4.3 M387.7 272h4.3 M672.9 272h-4.3 M387.7 269.01h4.3 M672.9 269.01h-4.3 M387.7 266.69h4.3 M672.9 266.69h-4.3 M387.7 264.8h4.3 M672.9 264.8h-4.3 M387.7 263.2h4.3 M672.9 263.2h-4.3 M387.7 261.82h4.3 M672.9 261.82h-4.3 M387.7 260.59h4.3 M672.9 260.59h-4.3 M387.7 259.5h8.5 M672.9 259.5h-8.5 M393.4 442.2v-3 M393.4 254.3v3 M399.11 442.2v-3 M399.11 254.3v3 M404.81 442.2v-3 M404.81 254.3v3 M410.52 442.2v-3 M410.52 254.3v3 M416.22 442.2v-6 M416.22 254.3v6 M421.92 442.2v-3 M421.92 254.3v3 M427.63 442.2v-3 M427.63 254.3v3 M433.33 442.2v-3 M433.33 254.3v3 M439.04 442.2v-3 M439.04 254.3v3 M444.74 442.2v-6 M444.74 254.3v6 M450.44 442.2v-3 M450.44 254.3v3 M456.15 442.2v-3 M456.15 254.3v3 M461.85 442.2v-3 M461.85 254.3v3 M467.56 442.2v-3 M467.56 254.3v3 M473.26 442.2v-6 M473.26 254.3v6 M478.96 442.2v-3 M478.96 254.3v3 M484.67 442.2v-3 M484.67 254.3v3 M490.37 442.2v-3 M490.37 254.3v3 M496.08 442.2v-3 M496.08 254.3v3 M501.78 442.2v-6 M501.78 254.3v6 M507.48 442.2v-3 M507.48 254.3v3 M513.19 442.2v-3 M513.19 254.3v3 M518.89 442.2v-3 M518.89 254.3v3 M524.6 442.2v-3 M524.6 254.3v3 M530.3 442.2v-6 M530.3 254.3v6 M536 442.2v-3 M536 254.3v3 M541.71 442.2v-3 M541.71 254.3v3 M547.41 442.2v-3 M547.41 254.3v3 M553.12 442.2v-3 M553.12 254.3v3 M558.82 442.2v-6 M558.82 254.3v6 M564.52 442.2v-3 M564.52 254.3v3 M570.23 442.2v-3 M570.23 254.3v3 M575.93 442.2v-3 M575.93 254.3v3 M581.64 442.2v-3 M581.64 254.3v3 M587.34 442.2v-6 M587.34 254.3v6 M593.04 442.2v-3 M593.04 254.3v3 M598.75 442.2v-3 M598.75 254.3v3 M604.45 442.2v-3 M604.45 254.3v3 M610.16 442.2v-3 M610.16 254.3v3 M615.86 442.2v-6 M615.86 254.3v6 M621.56 442.2v-3 M621.56 254.3v3 M627.27 442.2v-3 M627.27 254.3v3 M632.97 442.2v-3 M632.97 254.3v3 M638.68 442.2v-3 M638.68 254.3v3 M644.38 442.2v-6 M644.38 254.3v6 M650.08 442.2v-3 M650.08 254.3v3 M655.79 442.2v-3 M655.79 254.3v3 M661.49 442.2v-3 M661.49 254.3v3 M667.2 442.2v-3 M667.2 254.3v3" stroke="#000" stroke-width="0.45" fill="none"/>
<g font-size="10.9"><text x="384.9" y="432.3" text-anchor="end">10<tspan dx="-0.6" dy="-5.2" font-size="8.4"><tspan letter-spacing="-0.7">-</tspan>1</tspan></text><text x="385.5" y="408.4" text-anchor="end">1</text><text x="385.5" y="384.5" text-anchor="end">10</text><text x="384.9" y="360.6" text-anchor="end">10<tspan dx="-0.6" dy="-5.2" font-size="8.4">2</tspan></text><text x="384.9" y="336.7" text-anchor="end">10<tspan dx="-0.6" dy="-5.2" font-size="8.4">3</tspan></text><text x="384.9" y="312.8" text-anchor="end">10<tspan dx="-0.6" dy="-5.2" font-size="8.4">4</tspan></text><text x="384.9" y="288.9" text-anchor="end">10<tspan dx="-0.6" dy="-5.2" font-size="8.4">5</tspan></text><text x="384.9" y="265" text-anchor="end">10<tspan dx="-0.6" dy="-5.2" font-size="8.4">6</tspan></text></g>
<g font-size="10.5"><text x="387.7" y="453" text-anchor="middle">0</text><text x="416.22" y="453" text-anchor="middle">100</text><text x="444.74" y="453" text-anchor="middle">200</text><text x="473.26" y="453" text-anchor="middle">300</text><text x="501.78" y="453" text-anchor="middle">400</text><text x="530.3" y="453" text-anchor="middle">500</text><text x="558.82" y="453" text-anchor="middle">600</text><text x="587.34" y="453" text-anchor="middle">700</text><text x="615.86" y="453" text-anchor="middle">800</text><text x="644.38" y="453" text-anchor="middle">900</text><text x="672.9" y="453" text-anchor="middle">1000</text></g>
<text transform="translate(363.7 254.5) rotate(-90)" text-anchor="end" font-size="11.2">Events / 40 GeV</text>
<g font-size="11.05"><line x1="550.8" y1="265.4" x2="566.6" y2="265.4" stroke="#000" stroke-width="1.3"/>
<circle cx="558.7" cy="265.4" r="2.2"/>
<rect x="550.8" y="274" width="16.2" height="9.4" fill="#67e445" stroke="#4ccc34" stroke-width="0.9"/>
<rect x="550.8" y="287" width="16.2" height="9.4" fill="#ff8080" stroke="#e8505a" stroke-width="0.9"/>
<rect x="550.8" y="300.2" width="16.2" height="9.4" fill="#ffff00" stroke="#e0d800" stroke-width="0.9"/>
<rect x="550.8" y="313.5" width="16.2" height="9.4" fill="#4d4dff" stroke="#0000ff" stroke-width="0.9"/>
<line x1="550.8" y1="331.5" x2="566.6" y2="331.5" stroke="#000" stroke-width="1.3"/>
<path d="M605.6 260.8H611.9" stroke="#000" stroke-width="0.7"/>
<text x="570" y="269.35">Data (&#8730;s=7 TeV)</text>
<text x="570" y="282.3">V+Jets</text>
<text x="570" y="295.25">Top</text>
<text x="570" y="308.2">Multi-jet</text>
<text x="570" y="321.15">Diboson</text>
<text x="570" y="334.1">LQ (m=600 GeV)</text>
<text x="400.1" y="273.2" font-weight="bold" font-style="italic" font-size="12.9" letter-spacing="0.35">ATLAS</text>
<text x="463.1" y="273.2" font-size="10.8">LQLQ</text>
<path d="M477.4 264h15.2" stroke="#000" stroke-width="0.9"/>
<path d="M495.8 270.2h9.6 M505.5 270.2l-2.6 -1.8 M505.5 270.2l-2.6 1.8" stroke="#000" stroke-width="0.8" fill="none"/>
<text x="509.1" y="273.2" font-size="11.2" font-family="'Liberation Serif', 'Times New Roman', serif">&#956;&#957;</text>
<text x="520.5" y="273.2" font-size="10.8">jj</text>
<path d="M469.8 276.6 C469.1 275.4 467.7 275.8 467.6 278.7 L466.7 297.5 C466.6 300.4 465.1 300.8 464.4 299.6" stroke="#000" stroke-width="1.7" fill="none" stroke-linecap="round"/>
<circle cx="469.4" cy="276.8" r="1.25"/><circle cx="464.8" cy="299.4" r="1.25"/>
<text x="470.8" y="293.5" font-size="11.2">Ldt = 1.03 fb<tspan dx="0" dy="-6.2" font-size="6.9" letter-spacing="-0.6">-1</tspan></text></g>
<text x="569.21" y="464.1" font-size="11.1">Leptoquark&#160;m</text>
<text x="637.07" y="467.2" font-size="7.8">T</text>
<text x="641.84" y="464.1" font-size="11.1">&#160;[GeV]</text>
<text x="513.3" y="488.6" text-anchor="middle" font-family="'Liberation Serif', 'Times New Roman', serif" font-size="13.2" letter-spacing="0.7" style="stroke-width:0.2px">(d)</text>
</svg>
</body></html>
